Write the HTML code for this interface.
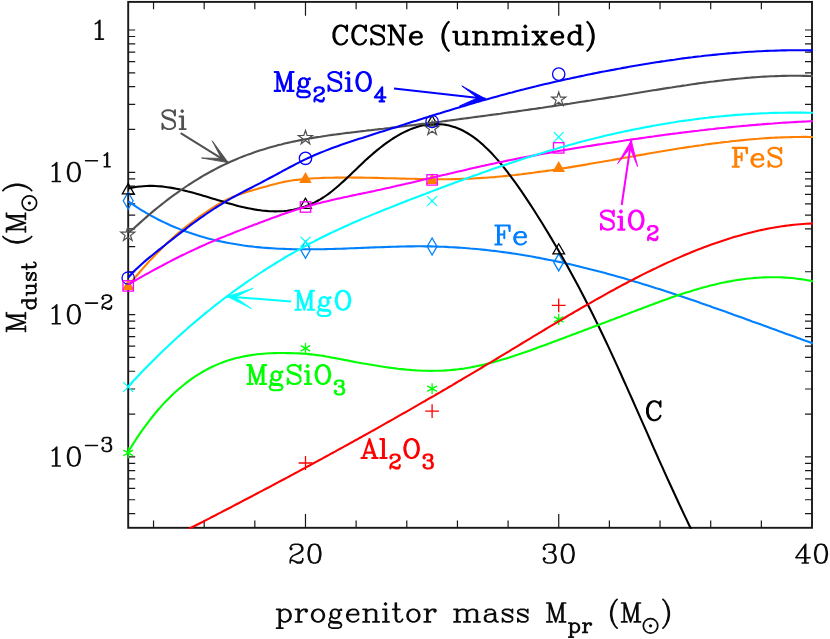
<!DOCTYPE html>
<html><head><meta charset="utf-8"><title>CCSNe (unmixed) dust mass</title>
<style>html,body{margin:0;padding:0;background:#fff;font-family:"Liberation Sans",sans-serif}svg{display:block}</style></head>
<body>
<svg width="830" height="639" viewBox="0 0 830 639">
<rect width="830" height="639" fill="#fff"/>
<defs><clipPath id="cp"><rect x="127.19999999999999" y="1.9" width="685.75" height="526.85"/></clipPath></defs>
<path d="M153.53 527.8v-7.3M153.53 1.9v7.3M204.18 527.8v-7.3M204.18 1.9v7.3M254.83 527.8v-7.3M254.83 1.9v7.3M305.48 527.8v-13.9M305.48 1.9v13.9M356.13 527.8v-7.3M356.13 1.9v7.3M406.79 527.8v-7.3M406.79 1.9v7.3M457.44 527.8v-7.3M457.44 1.9v7.3M508.09 527.8v-7.3M508.09 1.9v7.3M558.74 527.8v-13.9M558.74 1.9v13.9M609.39 527.8v-7.3M609.39 1.9v7.3M660.04 527.8v-7.3M660.04 1.9v7.3M710.70 527.8v-7.3M710.70 1.9v7.3M761.35 527.8v-7.3M761.35 1.9v7.3M128.2 30.00h7.0M812.0 30.00h-7.0M128.2 172.30h7.0M812.0 172.30h-7.0M128.2 129.46h7.0M812.0 129.46h-7.0M128.2 104.41h7.0M812.0 104.41h-7.0M128.2 86.63h7.0M812.0 86.63h-7.0M128.2 72.84h7.0M812.0 72.84h-7.0M128.2 61.57h7.0M812.0 61.57h-7.0M128.2 52.04h7.0M812.0 52.04h-7.0M128.2 43.79h7.0M812.0 43.79h-7.0M128.2 36.51h7.0M812.0 36.51h-7.0M128.2 314.60h7.0M812.0 314.60h-7.0M128.2 271.76h7.0M812.0 271.76h-7.0M128.2 246.71h7.0M812.0 246.71h-7.0M128.2 228.93h7.0M812.0 228.93h-7.0M128.2 215.14h7.0M812.0 215.14h-7.0M128.2 203.87h7.0M812.0 203.87h-7.0M128.2 194.34h7.0M812.0 194.34h-7.0M128.2 186.09h7.0M812.0 186.09h-7.0M128.2 178.81h7.0M812.0 178.81h-7.0M128.2 456.90h7.0M812.0 456.90h-7.0M128.2 414.06h7.0M812.0 414.06h-7.0M128.2 389.01h7.0M812.0 389.01h-7.0M128.2 371.23h7.0M812.0 371.23h-7.0M128.2 357.44h7.0M812.0 357.44h-7.0M128.2 346.17h7.0M812.0 346.17h-7.0M128.2 336.64h7.0M812.0 336.64h-7.0M128.2 328.39h7.0M812.0 328.39h-7.0M128.2 321.11h7.0M812.0 321.11h-7.0M128.2 513.53h7.0M812.0 513.53h-7.0M128.2 499.74h7.0M812.0 499.74h-7.0M128.2 488.47h7.0M812.0 488.47h-7.0M128.2 478.94h7.0M812.0 478.94h-7.0M128.2 470.69h7.0M812.0 470.69h-7.0M128.2 463.41h7.0M812.0 463.41h-7.0" stroke="#181818" stroke-width="1.2" fill="none"/>
<rect x="128.2" y="1.9" width="683.8" height="525.9" fill="none" stroke="#181818" stroke-width="1.9"/>
<g id="fes"><polygon points="128.2,279.3 122.0,290.1 134.4,290.1" fill="#ff8000" stroke="none"/><polygon points="305.5,172.1 299.2,182.9 311.7,182.9" fill="#ff8000" stroke="none"/><polygon points="432.1,173.3 425.9,184.1 438.3,184.1" fill="#ff8000" stroke="none"/><polygon points="558.7,161.1 552.5,171.9 565.0,171.9" fill="#ff8000" stroke="none"/><path d="M128.2 285.8L131.2 282.1L134.2 278.5L137.2 275.0L140.2 271.5L143.2 268.1L146.2 264.7L149.2 261.4L152.2 258.2L155.2 255.0L158.2 251.9L161.2 248.9L164.2 246.0L167.2 243.1L170.2 240.3L173.2 237.6L176.2 234.9L179.2 232.3L182.2 229.8L185.2 227.4L188.2 225.1L191.2 222.8L194.2 220.5L197.2 218.4L200.2 216.2L203.2 214.1L206.2 212.1L209.2 210.1L212.2 208.1L215.2 206.2L218.2 204.4L221.2 202.6L224.2 201.0L227.2 199.5L230.2 198.1L233.2 196.8L236.2 195.6L239.2 194.5L242.2 193.5L245.2 192.5L248.2 191.6L251.2 190.7L254.2 189.8L257.2 189.0L260.2 188.1L263.2 187.2L266.2 186.4L269.2 185.6L272.2 184.7L275.2 184.0L278.2 183.2L281.2 182.5L284.2 181.9L287.2 181.3L290.2 180.8L293.2 180.3L296.2 179.9L299.2 179.6L302.2 179.2L305.2 179.0L308.2 178.7L311.2 178.5L314.2 178.3L317.2 178.2L320.2 178.0L323.2 177.9L326.2 177.8L329.2 177.7L332.2 177.7L335.2 177.6L338.2 177.6L341.2 177.6L344.2 177.5L347.2 177.5L350.2 177.5L353.2 177.6L356.2 177.6L359.2 177.6L362.2 177.6L365.2 177.7L368.2 177.7L371.2 177.8L374.2 177.9L377.2 177.9L380.2 178.0L383.2 178.1L386.2 178.2L389.2 178.2L392.2 178.3L395.2 178.4L398.2 178.5L401.2 178.6L404.2 178.6L407.2 178.7L410.2 178.8L413.2 178.8L416.2 178.9L419.2 179.0L422.2 179.0L425.2 179.1L428.2 179.1L431.2 179.1L434.2 179.2L437.2 179.2L440.2 179.2L443.2 179.2L446.2 179.2L449.2 179.2L452.2 179.1L455.2 179.1L458.2 179.0L461.2 178.9L464.2 178.8L467.2 178.7L470.2 178.6L473.2 178.5L476.2 178.3L479.2 178.1L482.2 177.9L485.2 177.7L488.2 177.5L491.2 177.3L494.2 177.1L497.2 176.8L500.2 176.5L503.2 176.2L506.2 175.9L509.2 175.6L512.2 175.3L515.2 175.0L518.2 174.6L521.2 174.3L524.2 173.9L527.2 173.5L530.2 173.1L533.2 172.8L536.2 172.3L539.2 171.9L542.2 171.5L545.2 171.1L548.2 170.6L551.2 170.2L554.2 169.7L557.2 169.3L560.2 168.8L563.2 168.3L566.2 167.9L569.2 167.4L572.2 166.9L575.2 166.4L578.2 165.9L581.2 165.4L584.2 164.9L587.2 164.4L590.2 163.8L593.2 163.3L596.2 162.8L599.2 162.3L602.2 161.8L605.2 161.2L608.2 160.7L611.2 160.2L614.2 159.6L617.2 159.1L620.2 158.6L623.2 158.0L626.2 157.5L629.2 157.0L632.2 156.5L635.2 155.9L638.2 155.4L641.2 154.9L644.2 154.4L647.2 153.8L650.2 153.3L653.2 152.8L656.2 152.3L659.2 151.8L662.2 151.3L665.2 150.8L668.2 150.3L671.2 149.8L674.2 149.3L677.2 148.8L680.2 148.3L683.2 147.9L686.2 147.4L689.2 146.9L692.2 146.5L695.2 146.0L698.2 145.6L701.2 145.2L704.2 144.7L707.2 144.3L710.2 143.9L713.2 143.5L716.2 143.1L719.2 142.8L722.2 142.4L725.2 142.0L728.2 141.7L731.2 141.3L734.2 141.0L737.2 140.7L740.2 140.4L743.2 140.1L746.2 139.8L749.2 139.5L752.2 139.2L755.2 139.0L758.2 138.8L761.2 138.5L764.2 138.3L767.2 138.1L770.2 137.9L773.2 137.8L776.2 137.6L779.2 137.5L782.2 137.4L785.2 137.3L788.2 137.2L791.2 137.1L794.2 137.0L797.2 137.0L800.2 137.0L803.2 136.9L806.2 136.9L809.2 137.0L812.2 137.0L813.2 137.0" stroke="#ff8000" fill="none" stroke-width="2.1" stroke-linejoin="round" clip-path="url(#cp)"/></g>
<g id="fe"><polygon points="128.2,192.3 133.1,200.8 128.2,209.3 123.3,200.8" fill="none" stroke="#0080ff" stroke-width="1.3"/><polygon points="305.5,241.2 310.4,249.7 305.5,258.2 300.6,249.7" fill="none" stroke="#0080ff" stroke-width="1.3"/><polygon points="432.1,238.0 437.0,246.5 432.1,255.0 427.2,246.5" fill="none" stroke="#0080ff" stroke-width="1.3"/><polygon points="558.7,253.9 563.6,262.4 558.7,270.9 553.8,262.4" fill="none" stroke="#0080ff" stroke-width="1.3"/><path d="M128.2 201.3L131.2 203.4L134.2 205.4L137.2 207.4L140.2 209.3L143.2 211.1L146.2 212.9L149.2 214.6L152.2 216.3L155.2 217.9L158.2 219.5L161.2 221.0L164.2 222.4L167.2 223.8L170.2 225.2L173.2 226.5L176.2 227.7L179.2 228.9L182.2 230.1L185.2 231.2L188.2 232.3L191.2 233.3L194.2 234.3L197.2 235.3L200.2 236.2L203.2 237.1L206.2 237.9L209.2 238.7L212.2 239.4L215.2 240.2L218.2 240.9L221.2 241.5L224.2 242.1L227.2 242.7L230.2 243.3L233.2 243.8L236.2 244.3L239.2 244.8L242.2 245.3L245.2 245.7L248.2 246.1L251.2 246.4L254.2 246.8L257.2 247.1L260.2 247.4L263.2 247.7L266.2 247.9L269.2 248.1L272.2 248.3L275.2 248.5L278.2 248.7L281.2 248.8L284.2 248.9L287.2 249.0L290.2 249.1L293.2 249.2L296.2 249.3L299.2 249.3L302.2 249.3L305.2 249.3L308.2 249.3L311.2 249.3L314.2 249.3L317.2 249.3L320.2 249.2L323.2 249.2L326.2 249.1L329.2 249.0L332.2 249.0L335.2 248.9L338.2 248.8L341.2 248.7L344.2 248.6L347.2 248.5L350.2 248.3L353.2 248.2L356.2 248.1L359.2 248.0L362.2 247.9L365.2 247.8L368.2 247.6L371.2 247.5L374.2 247.4L377.2 247.3L380.2 247.2L383.2 247.1L386.2 247.0L389.2 246.9L392.2 246.8L395.2 246.7L398.2 246.6L401.2 246.5L404.2 246.5L407.2 246.4L410.2 246.4L413.2 246.4L416.2 246.3L419.2 246.3L422.2 246.3L425.2 246.4L428.2 246.4L431.2 246.4L434.2 246.5L437.2 246.6L440.2 246.7L443.2 246.8L446.2 246.9L449.2 247.1L452.2 247.2L455.2 247.4L458.2 247.6L461.2 247.8L464.2 248.0L467.2 248.2L470.2 248.5L473.2 248.7L476.2 249.0L479.2 249.3L482.2 249.6L485.2 249.9L488.2 250.2L491.2 250.6L494.2 250.9L497.2 251.3L500.2 251.7L503.2 252.1L506.2 252.5L509.2 252.9L512.2 253.4L515.2 253.8L518.2 254.3L521.2 254.8L524.2 255.3L527.2 255.8L530.2 256.3L533.2 256.8L536.2 257.4L539.2 257.9L542.2 258.5L545.2 259.1L548.2 259.7L551.2 260.3L554.2 260.9L557.2 261.5L560.2 262.1L563.2 262.8L566.2 263.5L569.2 264.1L572.2 264.8L575.2 265.5L578.2 266.2L581.2 266.9L584.2 267.7L587.2 268.4L590.2 269.2L593.2 269.9L596.2 270.7L599.2 271.5L602.2 272.3L605.2 273.1L608.2 273.9L611.2 274.7L614.2 275.6L617.2 276.4L620.2 277.3L623.2 278.1L626.2 279.0L629.2 279.9L632.2 280.8L635.2 281.7L638.2 282.6L641.2 283.5L644.2 284.4L647.2 285.3L650.2 286.3L653.2 287.2L656.2 288.2L659.2 289.1L662.2 290.1L665.2 291.1L668.2 292.0L671.2 293.0L674.2 294.0L677.2 295.0L680.2 296.0L683.2 297.0L686.2 298.0L689.2 299.1L692.2 300.1L695.2 301.1L698.2 302.1L701.2 303.2L704.2 304.2L707.2 305.3L710.2 306.3L713.2 307.4L716.2 308.4L719.2 309.5L722.2 310.6L725.2 311.6L728.2 312.7L731.2 313.8L734.2 314.9L737.2 315.9L740.2 317.0L743.2 318.1L746.2 319.2L749.2 320.3L752.2 321.4L755.2 322.4L758.2 323.5L761.2 324.6L764.2 325.7L767.2 326.8L770.2 327.9L773.2 329.0L776.2 330.1L779.2 331.2L782.2 332.3L785.2 333.4L788.2 334.5L791.2 335.6L794.2 336.6L797.2 337.7L800.2 338.8L803.2 339.9L806.2 341.0L809.2 342.1L812.2 343.2L813.2 343.5" stroke="#0080ff" fill="none" stroke-width="2.1" stroke-linejoin="round" clip-path="url(#cp)"/></g>
<g id="c"><polygon points="128.2,183.6 122.3,193.8 134.1,193.8" fill="none" stroke="#000000" stroke-width="1.3" stroke-linejoin="miter"/><polygon points="305.5,198.2 299.6,208.4 311.4,208.4" fill="none" stroke="#000000" stroke-width="1.3" stroke-linejoin="miter"/><polygon points="432.1,115.7 426.2,125.9 438.0,125.9" fill="none" stroke="#000000" stroke-width="1.3" stroke-linejoin="miter"/><polygon points="558.7,243.7 552.9,253.9 564.6,253.9" fill="none" stroke="#000000" stroke-width="1.3" stroke-linejoin="miter"/><path d="M128.2 188.6L131.2 187.9L134.2 187.3L137.2 186.8L140.2 186.5L143.2 186.2L146.2 186.0L149.2 185.9L152.2 185.9L155.2 186.0L158.2 186.2L161.2 186.4L164.2 186.8L167.2 187.2L170.2 187.6L173.2 188.1L176.2 188.7L179.2 189.3L182.2 190.0L185.2 190.7L188.2 191.5L191.2 192.2L194.2 193.1L197.2 193.9L200.2 194.8L203.2 195.7L206.2 196.6L209.2 197.5L212.2 198.4L215.2 199.3L218.2 200.2L221.2 201.1L224.2 202.0L227.2 202.9L230.2 203.7L233.2 204.6L236.2 205.4L239.2 206.2L242.2 206.9L245.2 207.6L248.2 208.2L251.2 208.8L254.2 209.4L257.2 209.9L260.2 210.3L263.2 210.7L266.2 210.9L269.2 211.2L272.2 211.3L275.2 211.4L278.2 211.3L281.2 211.2L284.2 211.0L287.2 210.7L290.2 210.2L293.2 209.7L296.2 209.1L299.2 208.3L302.2 207.4L305.2 206.4L308.2 205.3L311.2 204.0L314.2 202.6L317.2 201.0L320.2 199.3L323.2 197.5L326.2 195.5L329.2 193.3L332.2 191.0L335.2 188.5L338.2 186.0L341.2 183.3L344.2 180.6L347.2 177.8L350.2 174.9L353.2 172.0L356.2 169.2L359.2 166.3L362.2 163.4L365.2 160.6L368.2 157.9L371.2 155.2L374.2 152.6L377.2 150.1L380.2 147.7L383.2 145.4L386.2 143.2L389.2 141.1L392.2 139.0L395.2 137.1L398.2 135.3L401.2 133.6L404.2 132.1L407.2 130.7L410.2 129.4L413.2 128.2L416.2 127.2L419.2 126.3L422.2 125.5L425.2 124.9L428.2 124.5L431.2 124.2L434.2 124.0L437.2 124.0L440.2 124.2L443.2 124.5L446.2 124.9L449.2 125.6L452.2 126.4L455.2 127.3L458.2 128.5L461.2 129.8L464.2 131.3L467.2 133.0L470.2 134.8L473.2 136.9L476.2 139.1L479.2 141.5L482.2 144.1L485.2 146.9L488.2 149.8L491.2 152.8L494.2 156.1L497.2 159.4L500.2 163.0L503.2 166.6L506.2 170.4L509.2 174.3L512.2 178.3L515.2 182.4L518.2 186.6L521.2 190.9L524.2 195.3L527.2 199.8L530.2 204.4L533.2 209.0L536.2 213.7L539.2 218.5L542.2 223.3L545.2 228.2L548.2 233.1L551.2 238.1L554.2 243.2L557.2 248.3L560.2 253.5L563.2 258.7L566.2 264.1L569.2 269.5L572.2 274.9L575.2 280.5L578.2 286.1L581.2 291.8L584.2 297.5L587.2 303.4L590.2 309.3L593.2 315.3L596.2 321.4L599.2 327.5L602.2 333.7L605.2 340.0L608.2 346.4L611.2 352.9L614.2 359.4L617.2 365.9L620.2 372.5L623.2 379.2L626.2 385.9L629.2 392.6L632.2 399.3L635.2 406.1L638.2 412.9L641.2 419.6L644.2 426.4L647.2 433.2L650.2 440.0L653.2 446.8L656.2 453.5L659.2 460.3L662.2 466.9L665.2 473.6L668.2 480.2L671.2 486.8L674.2 493.3L677.2 499.8L680.2 506.2L683.2 512.6L686.2 518.9L689.2 525.2L692.2 531.4L695.2 537.6L698.2 543.8L700.0 547.5" stroke="#000000" fill="none" stroke-width="2.1" stroke-linejoin="round" clip-path="url(#cp)"/></g>
<g id="si"><polygon points="127.8,227.1 129.5,232.2 134.8,232.2 130.5,235.4 132.1,240.5 127.8,237.3 123.5,240.5 125.1,235.4 120.8,232.2 126.1,232.2" fill="none" stroke="#505050" stroke-width="1.2"/><polygon points="305.5,130.4 307.1,135.5 312.5,135.5 308.2,138.7 309.8,143.8 305.5,140.6 301.1,143.8 302.8,138.7 298.4,135.5 303.8,135.5" fill="none" stroke="#505050" stroke-width="1.2"/><polygon points="432.1,121.1 433.8,126.2 439.1,126.2 434.8,129.4 436.5,134.5 432.1,131.3 427.8,134.5 429.4,129.4 425.1,126.2 430.4,126.2" fill="none" stroke="#505050" stroke-width="1.2"/><polygon points="558.7,92.0 560.4,97.1 565.8,97.1 561.4,100.3 563.1,105.4 558.7,102.2 554.4,105.4 556.1,100.3 551.7,97.1 557.1,97.1" fill="none" stroke="#505050" stroke-width="1.2"/><path d="M128.4 232.6L131.4 230.2L134.4 227.7L137.4 225.1L140.4 222.4L143.4 219.8L146.4 217.1L149.4 214.5L152.4 211.9L155.4 209.4L158.4 207.0L161.4 204.6L164.4 202.2L167.4 199.9L170.4 197.6L173.4 195.4L176.4 193.3L179.4 191.1L182.4 189.0L185.4 187.0L188.4 185.0L191.4 183.1L194.4 181.2L197.4 179.3L200.4 177.5L203.4 175.7L206.4 174.0L209.4 172.3L212.4 170.7L215.4 169.1L218.4 167.5L221.4 166.0L224.4 164.6L227.4 163.2L230.4 161.8L233.4 160.5L236.4 159.2L239.4 157.9L242.4 156.7L245.4 155.6L248.4 154.4L251.4 153.4L254.4 152.3L257.4 151.3L260.4 150.3L263.4 149.4L266.4 148.5L269.4 147.6L272.4 146.7L275.4 145.9L278.4 145.1L281.4 144.4L284.4 143.6L287.4 142.9L290.4 142.3L293.4 141.6L296.4 141.0L299.4 140.4L302.4 139.8L305.4 139.2L308.4 138.7L311.4 138.1L314.4 137.6L317.4 137.1L320.4 136.7L323.4 136.2L326.4 135.8L329.4 135.3L332.4 134.9L335.4 134.5L338.4 134.1L341.4 133.7L344.4 133.3L347.4 132.9L350.4 132.6L353.4 132.2L356.4 131.9L359.4 131.5L362.4 131.1L365.4 130.8L368.4 130.4L371.4 130.1L374.4 129.7L377.4 129.4L380.4 129.0L383.4 128.7L386.4 128.3L389.4 128.0L392.4 127.6L395.4 127.2L398.4 126.9L401.4 126.5L404.4 126.2L407.4 125.8L410.4 125.4L413.4 125.1L416.4 124.7L419.4 124.3L422.4 123.9L425.4 123.6L428.4 123.2L431.4 122.8L434.4 122.4L437.4 122.0L440.4 121.7L443.4 121.3L446.4 120.9L449.4 120.5L452.4 120.1L455.4 119.7L458.4 119.3L461.4 118.9L464.4 118.5L467.4 118.1L470.4 117.7L473.4 117.3L476.4 116.9L479.4 116.5L482.4 116.1L485.4 115.7L488.4 115.3L491.4 114.9L494.4 114.5L497.4 114.1L500.4 113.7L503.4 113.2L506.4 112.8L509.4 112.4L512.4 112.0L515.4 111.6L518.4 111.1L521.4 110.7L524.4 110.3L527.4 109.9L530.4 109.4L533.4 109.0L536.4 108.6L539.4 108.1L542.4 107.7L545.4 107.2L548.4 106.8L551.4 106.4L554.4 105.9L557.4 105.5L560.4 105.0L563.4 104.6L566.4 104.1L569.4 103.7L572.4 103.2L575.4 102.8L578.4 102.3L581.4 101.8L584.4 101.4L587.4 100.9L590.4 100.5L593.4 100.0L596.4 99.5L599.4 99.0L602.4 98.6L605.4 98.1L608.4 97.6L611.4 97.1L614.4 96.7L617.4 96.2L620.4 95.7L623.4 95.2L626.4 94.7L629.4 94.2L632.4 93.8L635.4 93.3L638.4 92.8L641.4 92.3L644.4 91.8L647.4 91.3L650.4 90.8L653.4 90.3L656.4 89.9L659.4 89.4L662.4 88.9L665.4 88.4L668.4 87.9L671.4 87.5L674.4 87.0L677.4 86.5L680.4 86.1L683.4 85.6L686.4 85.2L689.4 84.7L692.4 84.3L695.4 83.9L698.4 83.4L701.4 83.0L704.4 82.6L707.4 82.2L710.4 81.8L713.4 81.5L716.4 81.1L719.4 80.7L722.4 80.4L725.4 80.0L728.4 79.7L731.4 79.4L734.4 79.1L737.4 78.8L740.4 78.5L743.4 78.2L746.4 77.9L749.4 77.7L752.4 77.4L755.4 77.2L758.4 77.0L761.4 76.8L764.4 76.6L767.4 76.5L770.4 76.3L773.4 76.2L776.4 76.1L779.4 76.0L782.4 75.9L785.4 75.9L788.4 75.8L791.4 75.8L794.4 75.8L797.4 75.8L800.4 75.8L803.4 75.9L806.4 75.9L809.4 76.0L812.4 76.1L813.2 76.2" stroke="#505050" fill="none" stroke-width="2.1" stroke-linejoin="round" clip-path="url(#cp)"/></g>
<g id="mg2sio4"><circle cx="128.2" cy="278.0" r="6.2" fill="none" stroke="#0000ff" stroke-width="1.3"/><circle cx="305.5" cy="158.3" r="6.2" fill="none" stroke="#0000ff" stroke-width="1.3"/><circle cx="432.1" cy="121.5" r="6.2" fill="none" stroke="#0000ff" stroke-width="1.3"/><circle cx="558.7" cy="74.1" r="6.2" fill="none" stroke="#0000ff" stroke-width="1.3"/><path d="M128.2 277.5L131.2 274.2L134.2 271.1L137.2 268.2L140.2 265.4L143.2 262.7L146.2 260.1L149.2 257.6L152.2 255.2L155.2 252.8L158.2 250.4L161.2 248.1L164.2 245.7L167.2 243.3L170.2 241.0L173.2 238.6L176.2 236.2L179.2 233.9L182.2 231.6L185.2 229.3L188.2 227.0L191.2 224.7L194.2 222.5L197.2 220.3L200.2 218.2L203.2 216.1L206.2 214.0L209.2 212.0L212.2 210.0L215.2 208.0L218.2 206.1L221.2 204.3L224.2 202.4L227.2 200.7L230.2 198.9L233.2 197.2L236.2 195.6L239.2 194.0L242.2 192.4L245.2 190.8L248.2 189.2L251.2 187.7L254.2 186.1L257.2 184.6L260.2 183.1L263.2 181.5L266.2 179.9L269.2 178.3L272.2 176.7L275.2 175.1L278.2 173.5L281.2 171.9L284.2 170.2L287.2 168.6L290.2 167.0L293.2 165.5L296.2 163.9L299.2 162.4L302.2 160.9L305.2 159.4L308.2 158.0L311.2 156.7L314.2 155.3L317.2 154.0L320.2 152.8L323.2 151.6L326.2 150.4L329.2 149.2L332.2 148.1L335.2 147.0L338.2 145.9L341.2 144.8L344.2 143.8L347.2 142.8L350.2 141.8L353.2 140.8L356.2 139.8L359.2 138.8L362.2 137.9L365.2 136.9L368.2 136.0L371.2 135.0L374.2 134.0L377.2 133.1L380.2 132.1L383.2 131.2L386.2 130.2L389.2 129.3L392.2 128.3L395.2 127.4L398.2 126.4L401.2 125.4L404.2 124.5L407.2 123.5L410.2 122.6L413.2 121.6L416.2 120.7L419.2 119.7L422.2 118.8L425.2 117.8L428.2 116.9L431.2 116.0L434.2 115.0L437.2 114.1L440.2 113.2L443.2 112.2L446.2 111.3L449.2 110.4L452.2 109.5L455.2 108.6L458.2 107.7L461.2 106.8L464.2 105.9L467.2 105.0L470.2 104.1L473.2 103.2L476.2 102.3L479.2 101.5L482.2 100.6L485.2 99.7L488.2 98.9L491.2 98.1L494.2 97.2L497.2 96.4L500.2 95.6L503.2 94.7L506.2 93.9L509.2 93.1L512.2 92.4L515.2 91.6L518.2 90.8L521.2 90.0L524.2 89.3L527.2 88.5L530.2 87.8L533.2 87.0L536.2 86.3L539.2 85.5L542.2 84.8L545.2 84.1L548.2 83.4L551.2 82.7L554.2 82.0L557.2 81.3L560.2 80.7L563.2 80.0L566.2 79.3L569.2 78.7L572.2 78.0L575.2 77.4L578.2 76.7L581.2 76.1L584.2 75.5L587.2 74.8L590.2 74.2L593.2 73.6L596.2 73.0L599.2 72.4L602.2 71.8L605.2 71.3L608.2 70.7L611.2 70.1L614.2 69.6L617.2 69.0L620.2 68.5L623.2 67.9L626.2 67.4L629.2 66.8L632.2 66.3L635.2 65.8L638.2 65.3L641.2 64.8L644.2 64.3L647.2 63.8L650.2 63.3L653.2 62.8L656.2 62.3L659.2 61.9L662.2 61.4L665.2 61.0L668.2 60.5L671.2 60.1L674.2 59.7L677.2 59.2L680.2 58.8L683.2 58.4L686.2 58.0L689.2 57.6L692.2 57.3L695.2 56.9L698.2 56.5L701.2 56.2L704.2 55.8L707.2 55.5L710.2 55.2L713.2 54.9L716.2 54.6L719.2 54.3L722.2 54.0L725.2 53.7L728.2 53.4L731.2 53.2L734.2 52.9L737.2 52.7L740.2 52.5L743.2 52.2L746.2 52.0L749.2 51.8L752.2 51.7L755.2 51.5L758.2 51.3L761.2 51.2L764.2 51.0L767.2 50.9L770.2 50.8L773.2 50.7L776.2 50.6L779.2 50.5L782.2 50.4L785.2 50.4L788.2 50.3L791.2 50.3L794.2 50.3L797.2 50.3L800.2 50.3L803.2 50.3L806.2 50.3L809.2 50.4L812.2 50.4L813.2 50.4" stroke="#0000ff" fill="none" stroke-width="2.1" stroke-linejoin="round" clip-path="url(#cp)"/></g>
<g id="sio2"><rect x="123.0" y="280.7" width="10.4" height="10.4" fill="none" stroke="#ff00ff" stroke-width="1.3"/><rect x="300.3" y="201.8" width="10.4" height="10.4" fill="none" stroke="#ff00ff" stroke-width="1.3"/><rect x="426.9" y="174.7" width="10.4" height="10.4" fill="none" stroke="#ff00ff" stroke-width="1.3"/><rect x="553.5" y="142.7" width="10.4" height="10.4" fill="none" stroke="#ff00ff" stroke-width="1.3"/><path d="M128.2 284.4L131.2 282.7L134.2 281.0L137.2 279.3L140.2 277.6L143.2 275.9L146.2 274.2L149.2 272.6L152.2 270.9L155.2 269.3L158.2 267.7L161.2 266.1L164.2 264.5L167.2 262.9L170.2 261.4L173.2 259.8L176.2 258.3L179.2 256.8L182.2 255.3L185.2 253.9L188.2 252.4L191.2 251.0L194.2 249.6L197.2 248.2L200.2 246.8L203.2 245.5L206.2 244.1L209.2 242.8L212.2 241.6L215.2 240.3L218.2 239.0L221.2 237.8L224.2 236.6L227.2 235.4L230.2 234.2L233.2 233.0L236.2 231.8L239.2 230.6L242.2 229.4L245.2 228.3L248.2 227.1L251.2 226.0L254.2 224.8L257.2 223.7L260.2 222.5L263.2 221.4L266.2 220.3L269.2 219.2L272.2 218.0L275.2 217.0L278.2 215.9L281.2 214.8L284.2 213.7L287.2 212.7L290.2 211.7L293.2 210.7L296.2 209.7L299.2 208.8L302.2 207.9L305.2 207.0L308.2 206.1L311.2 205.3L314.2 204.4L317.2 203.6L320.2 202.9L323.2 202.1L326.2 201.4L329.2 200.7L332.2 200.0L335.2 199.3L338.2 198.6L341.2 198.0L344.2 197.3L347.2 196.7L350.2 196.0L353.2 195.4L356.2 194.8L359.2 194.1L362.2 193.5L365.2 192.9L368.2 192.2L371.2 191.6L374.2 191.0L377.2 190.3L380.2 189.7L383.2 189.0L386.2 188.3L389.2 187.7L392.2 187.0L395.2 186.3L398.2 185.6L401.2 184.9L404.2 184.3L407.2 183.6L410.2 182.9L413.2 182.2L416.2 181.5L419.2 180.8L422.2 180.0L425.2 179.3L428.2 178.6L431.2 177.9L434.2 177.2L437.2 176.5L440.2 175.8L443.2 175.1L446.2 174.4L449.2 173.7L452.2 173.0L455.2 172.3L458.2 171.6L461.2 170.9L464.2 170.2L467.2 169.5L470.2 168.8L473.2 168.1L476.2 167.4L479.2 166.8L482.2 166.1L485.2 165.4L488.2 164.8L491.2 164.1L494.2 163.5L497.2 162.8L500.2 162.2L503.2 161.6L506.2 160.9L509.2 160.3L512.2 159.7L515.2 159.1L518.2 158.5L521.2 157.9L524.2 157.4L527.2 156.8L530.2 156.2L533.2 155.6L536.2 155.1L539.2 154.5L542.2 154.0L545.2 153.5L548.2 152.9L551.2 152.4L554.2 151.9L557.2 151.3L560.2 150.8L563.2 150.3L566.2 149.8L569.2 149.3L572.2 148.8L575.2 148.3L578.2 147.8L581.2 147.3L584.2 146.8L587.2 146.3L590.2 145.9L593.2 145.4L596.2 144.9L599.2 144.4L602.2 144.0L605.2 143.5L608.2 143.0L611.2 142.6L614.2 142.1L617.2 141.7L620.2 141.2L623.2 140.8L626.2 140.3L629.2 139.9L632.2 139.4L635.2 139.0L638.2 138.6L641.2 138.1L644.2 137.7L647.2 137.3L650.2 136.9L653.2 136.5L656.2 136.0L659.2 135.6L662.2 135.2L665.2 134.8L668.2 134.4L671.2 134.0L674.2 133.6L677.2 133.3L680.2 132.9L683.2 132.5L686.2 132.1L689.2 131.8L692.2 131.4L695.2 131.0L698.2 130.7L701.2 130.3L704.2 130.0L707.2 129.6L710.2 129.3L713.2 129.0L716.2 128.6L719.2 128.3L722.2 128.0L725.2 127.7L728.2 127.4L731.2 127.1L734.2 126.8L737.2 126.5L740.2 126.2L743.2 125.9L746.2 125.7L749.2 125.4L752.2 125.1L755.2 124.9L758.2 124.6L761.2 124.4L764.2 124.1L767.2 123.9L770.2 123.7L773.2 123.5L776.2 123.2L779.2 123.0L782.2 122.8L785.2 122.6L788.2 122.5L791.2 122.3L794.2 122.1L797.2 121.9L800.2 121.8L803.2 121.6L806.2 121.5L809.2 121.3L812.2 121.2L813.2 121.1" stroke="#ff00ff" fill="none" stroke-width="2.1" stroke-linejoin="round" clip-path="url(#cp)"/></g>
<g id="mgo"><path d="M123.3 382.1L133.1 391.9M123.3 391.9L133.1 382.1" stroke="#00ffff" stroke-width="1.3" fill="none"/><path d="M300.6 236.9L310.4 246.7M300.6 246.7L310.4 236.9" stroke="#00ffff" stroke-width="1.3" fill="none"/><path d="M427.2 196.1L437.0 205.9M427.2 205.9L437.0 196.1" stroke="#00ffff" stroke-width="1.3" fill="none"/><path d="M553.8 132.1L563.6 141.9M553.8 141.9L563.6 132.1" stroke="#00ffff" stroke-width="1.3" fill="none"/><path d="M128.2 386.5L131.2 383.3L134.2 380.0L137.2 376.9L140.2 373.7L143.2 370.6L146.2 367.5L149.2 364.5L152.2 361.5L155.2 358.5L158.2 355.6L161.2 352.6L164.2 349.8L167.2 346.9L170.2 344.1L173.2 341.3L176.2 338.5L179.2 335.8L182.2 333.1L185.2 330.5L188.2 327.8L191.2 325.2L194.2 322.6L197.2 320.1L200.2 317.6L203.2 315.1L206.2 312.6L209.2 310.2L212.2 307.8L215.2 305.4L218.2 303.1L221.2 300.7L224.2 298.5L227.2 296.2L230.2 294.0L233.2 291.7L236.2 289.6L239.2 287.4L242.2 285.3L245.2 283.2L248.2 281.1L251.2 279.0L254.2 277.0L257.2 275.0L260.2 273.0L263.2 271.0L266.2 269.1L269.2 267.2L272.2 265.3L275.2 263.5L278.2 261.6L281.2 259.8L284.2 258.0L287.2 256.2L290.2 254.5L293.2 252.8L296.2 251.1L299.2 249.4L302.2 247.7L305.2 246.1L308.2 244.5L311.2 242.9L314.2 241.4L317.2 239.8L320.2 238.3L323.2 236.8L326.2 235.3L329.2 233.8L332.2 232.4L335.2 231.0L338.2 229.6L341.2 228.2L344.2 226.8L347.2 225.5L350.2 224.1L353.2 222.8L356.2 221.5L359.2 220.2L362.2 218.9L365.2 217.6L368.2 216.4L371.2 215.1L374.2 213.9L377.2 212.7L380.2 211.5L383.2 210.3L386.2 209.0L389.2 207.9L392.2 206.7L395.2 205.5L398.2 204.3L401.2 203.1L404.2 202.0L407.2 200.8L410.2 199.6L413.2 198.5L416.2 197.3L419.2 196.2L422.2 195.0L425.2 193.9L428.2 192.7L431.2 191.6L434.2 190.4L437.2 189.3L440.2 188.2L443.2 187.0L446.2 185.9L449.2 184.8L452.2 183.7L455.2 182.6L458.2 181.5L461.2 180.4L464.2 179.3L467.2 178.2L470.2 177.1L473.2 176.0L476.2 174.9L479.2 173.9L482.2 172.8L485.2 171.7L488.2 170.7L491.2 169.6L494.2 168.6L497.2 167.6L500.2 166.5L503.2 165.5L506.2 164.5L509.2 163.5L512.2 162.5L515.2 161.5L518.2 160.5L521.2 159.5L524.2 158.6L527.2 157.6L530.2 156.7L533.2 155.7L536.2 154.8L539.2 153.9L542.2 152.9L545.2 152.0L548.2 151.1L551.2 150.2L554.2 149.4L557.2 148.5L560.2 147.6L563.2 146.8L566.2 145.9L569.2 145.1L572.2 144.3L575.2 143.4L578.2 142.6L581.2 141.8L584.2 141.1L587.2 140.3L590.2 139.5L593.2 138.8L596.2 138.0L599.2 137.3L602.2 136.6L605.2 135.8L608.2 135.1L611.2 134.4L614.2 133.8L617.2 133.1L620.2 132.4L623.2 131.8L626.2 131.1L629.2 130.5L632.2 129.9L635.2 129.3L638.2 128.7L641.2 128.1L644.2 127.5L647.2 126.9L650.2 126.4L653.2 125.8L656.2 125.3L659.2 124.7L662.2 124.2L665.2 123.7L668.2 123.2L671.2 122.7L674.2 122.3L677.2 121.8L680.2 121.3L683.2 120.9L686.2 120.5L689.2 120.1L692.2 119.7L695.2 119.3L698.2 118.9L701.2 118.5L704.2 118.1L707.2 117.8L710.2 117.4L713.2 117.1L716.2 116.8L719.2 116.5L722.2 116.2L725.2 115.9L728.2 115.6L731.2 115.4L734.2 115.1L737.2 114.9L740.2 114.7L743.2 114.4L746.2 114.2L749.2 114.1L752.2 113.9L755.2 113.7L758.2 113.5L761.2 113.4L764.2 113.3L767.2 113.2L770.2 113.0L773.2 112.9L776.2 112.9L779.2 112.8L782.2 112.7L785.2 112.7L788.2 112.6L791.2 112.6L794.2 112.6L797.2 112.6L800.2 112.6L803.2 112.6L806.2 112.7L809.2 112.7L812.2 112.8L813.2 112.8" stroke="#00ffff" fill="none" stroke-width="2.1" stroke-linejoin="round" clip-path="url(#cp)"/></g>
<g id="mgsio3"><path d="M128.2 447.3L128.2 458.3M123.4 450.1L133.0 455.6M133.0 450.1L123.4 455.6" stroke="#00ff00" stroke-width="1.3" fill="none"/><path d="M305.5 342.9L305.5 353.9M300.7 345.6L310.2 351.1M310.2 345.6L300.7 351.1" stroke="#00ff00" stroke-width="1.3" fill="none"/><path d="M432.1 383.2L432.1 394.2M427.3 385.9L436.9 391.4M436.9 385.9L427.3 391.4" stroke="#00ff00" stroke-width="1.3" fill="none"/><path d="M558.7 313.9L558.7 324.9M554.0 316.6L563.5 322.1M563.5 316.6L554.0 322.1" stroke="#00ff00" stroke-width="1.3" fill="none"/><path d="M128.2 452.0L131.2 447.0L134.2 442.2L137.2 437.6L140.2 433.2L143.2 428.9L146.2 424.8L149.2 420.8L152.2 417.0L155.2 413.3L158.2 409.8L161.2 406.4L164.2 403.1L167.2 400.0L170.2 397.0L173.2 394.1L176.2 391.3L179.2 388.7L182.2 386.2L185.2 383.7L188.2 381.4L191.2 379.2L194.2 377.2L197.2 375.2L200.2 373.3L203.2 371.5L206.2 369.9L209.2 368.3L212.2 366.8L215.2 365.4L218.2 364.1L221.2 362.9L224.2 361.8L227.2 360.8L230.2 359.8L233.2 358.9L236.2 358.1L239.2 357.4L242.2 356.7L245.2 356.1L248.2 355.6L251.2 355.1L254.2 354.7L257.2 354.3L260.2 354.0L263.2 353.7L266.2 353.5L269.2 353.3L272.2 353.2L275.2 353.1L278.2 353.0L281.2 353.0L284.2 353.0L287.2 353.1L290.2 353.1L293.2 353.2L296.2 353.3L299.2 353.4L302.2 353.6L305.2 353.8L308.2 354.1L311.2 354.4L314.2 354.7L317.2 355.1L320.2 355.5L323.2 355.9L326.2 356.5L329.2 357.0L332.2 357.6L335.2 358.1L338.2 358.7L341.2 359.3L344.2 359.9L347.2 360.4L350.2 361.0L353.2 361.6L356.2 362.2L359.2 362.7L362.2 363.3L365.2 363.8L368.2 364.3L371.2 364.8L374.2 365.3L377.2 365.8L380.2 366.3L383.2 366.8L386.2 367.2L389.2 367.6L392.2 368.0L395.2 368.4L398.2 368.8L401.2 369.1L404.2 369.4L407.2 369.7L410.2 369.9L413.2 370.2L416.2 370.4L419.2 370.5L422.2 370.7L425.2 370.8L428.2 370.8L431.2 370.9L434.2 370.8L437.2 370.8L440.2 370.7L443.2 370.6L446.2 370.4L449.2 370.2L452.2 369.9L455.2 369.6L458.2 369.3L461.2 368.9L464.2 368.5L467.2 368.0L470.2 367.5L473.2 366.9L476.2 366.3L479.2 365.6L482.2 365.0L485.2 364.3L488.2 363.5L491.2 362.7L494.2 361.9L497.2 361.1L500.2 360.2L503.2 359.3L506.2 358.4L509.2 357.5L512.2 356.5L515.2 355.5L518.2 354.5L521.2 353.5L524.2 352.5L527.2 351.4L530.2 350.4L533.2 349.3L536.2 348.2L539.2 347.1L542.2 346.0L545.2 344.9L548.2 343.8L551.2 342.7L554.2 341.6L557.2 340.5L560.2 339.3L563.2 338.2L566.2 337.1L569.2 336.0L572.2 334.8L575.2 333.7L578.2 332.6L581.2 331.5L584.2 330.3L587.2 329.2L590.2 328.1L593.2 326.9L596.2 325.8L599.2 324.7L602.2 323.5L605.2 322.4L608.2 321.2L611.2 320.1L614.2 319.0L617.2 317.8L620.2 316.7L623.2 315.5L626.2 314.4L629.2 313.2L632.2 312.1L635.2 310.9L638.2 309.8L641.2 308.7L644.2 307.5L647.2 306.4L650.2 305.3L653.2 304.2L656.2 303.0L659.2 301.9L662.2 300.8L665.2 299.8L668.2 298.7L671.2 297.6L674.2 296.6L677.2 295.6L680.2 294.6L683.2 293.6L686.2 292.6L689.2 291.7L692.2 290.7L695.2 289.8L698.2 288.9L701.2 288.1L704.2 287.2L707.2 286.4L710.2 285.6L713.2 284.9L716.2 284.2L719.2 283.5L722.2 282.8L725.2 282.2L728.2 281.6L731.2 281.1L734.2 280.5L737.2 280.0L740.2 279.6L743.2 279.2L746.2 278.8L749.2 278.5L752.2 278.2L755.2 277.9L758.2 277.7L761.2 277.5L764.2 277.4L767.2 277.3L770.2 277.2L773.2 277.2L776.2 277.2L779.2 277.3L782.2 277.4L785.2 277.6L788.2 277.8L791.2 278.0L794.2 278.3L797.2 278.7L800.2 279.1L803.2 279.5L806.2 280.0L809.2 280.5L812.2 281.1L813.2 281.3" stroke="#00ff00" fill="none" stroke-width="2.1" stroke-linejoin="round" clip-path="url(#cp)"/></g>
<g id="al2o3"><path d="M298.6 463.0L312.4 463.0M305.5 456.1L305.5 469.9" stroke="#ff0000" stroke-width="1.3" fill="none"/><path d="M425.2 411.1L439.0 411.1M432.1 404.2L432.1 418.0" stroke="#ff0000" stroke-width="1.3" fill="none"/><path d="M551.8 305.4L565.6 305.4M558.7 298.5L558.7 312.3" stroke="#ff0000" stroke-width="1.3" fill="none"/><path d="M170.0 538.5L173.0 537.0L176.0 535.5L179.0 534.0L182.0 532.4L185.0 530.9L188.0 529.4L191.0 527.8L194.0 526.3L197.0 524.7L200.0 523.2L203.0 521.7L206.0 520.1L209.0 518.6L212.0 517.0L215.0 515.5L218.0 513.9L221.0 512.4L224.0 510.8L227.0 509.2L230.0 507.7L233.0 506.1L236.0 504.5L239.0 503.0L242.0 501.4L245.0 499.8L248.0 498.3L251.0 496.7L254.0 495.1L257.0 493.5L260.0 491.9L263.0 490.4L266.0 488.8L269.0 487.2L272.0 485.6L275.0 484.0L278.0 482.4L281.0 480.8L284.0 479.2L287.0 477.6L290.0 476.0L293.0 474.4L296.0 472.8L299.0 471.1L302.0 469.5L305.0 467.9L308.0 466.3L311.0 464.7L314.0 463.0L317.0 461.4L320.0 459.8L323.0 458.1L326.0 456.5L329.0 454.9L332.0 453.2L335.0 451.6L338.0 449.9L341.0 448.3L344.0 446.6L347.0 445.0L350.0 443.3L353.0 441.7L356.0 440.0L359.0 438.3L362.0 436.7L365.0 435.0L368.0 433.3L371.0 431.6L374.0 430.0L377.0 428.3L380.0 426.6L383.0 424.9L386.0 423.2L389.0 421.5L392.0 419.8L395.0 418.1L398.0 416.4L401.0 414.7L404.0 413.0L407.0 411.3L410.0 409.6L413.0 407.9L416.0 406.1L419.0 404.4L422.0 402.7L425.0 401.0L428.0 399.2L431.0 397.5L434.0 395.8L437.0 394.0L440.0 392.3L443.0 390.5L446.0 388.8L449.0 387.0L452.0 385.3L455.0 383.5L458.0 381.7L461.0 380.0L464.0 378.2L467.0 376.4L470.0 374.7L473.0 372.9L476.0 371.1L479.0 369.3L482.0 367.5L485.0 365.7L488.0 363.9L491.0 362.1L494.0 360.3L497.0 358.5L500.0 356.7L503.0 354.9L506.0 353.1L509.0 351.3L512.0 349.4L515.0 347.6L518.0 345.8L521.0 344.0L524.0 342.2L527.0 340.4L530.0 338.6L533.0 336.7L536.0 334.9L539.0 333.1L542.0 331.3L545.0 329.5L548.0 327.7L551.0 325.9L554.0 324.1L557.0 322.3L560.0 320.6L563.0 318.8L566.0 317.0L569.0 315.2L572.0 313.5L575.0 311.7L578.0 310.0L581.0 308.2L584.0 306.5L587.0 304.8L590.0 303.1L593.0 301.3L596.0 299.6L599.0 298.0L602.0 296.3L605.0 294.6L608.0 292.9L611.0 291.3L614.0 289.7L617.0 288.0L620.0 286.4L623.0 284.8L626.0 283.2L629.0 281.6L632.0 280.1L635.0 278.5L638.0 277.0L641.0 275.4L644.0 273.9L647.0 272.4L650.0 271.0L653.0 269.5L656.0 268.1L659.0 266.6L662.0 265.2L665.0 263.8L668.0 262.4L671.0 261.1L674.0 259.7L677.0 258.4L680.0 257.1L683.0 255.8L686.0 254.5L689.0 253.3L692.0 252.0L695.0 250.8L698.0 249.6L701.0 248.5L704.0 247.3L707.0 246.2L710.0 245.1L713.0 244.0L716.0 243.0L719.0 241.9L722.0 240.9L725.0 239.9L728.0 239.0L731.0 238.1L734.0 237.1L737.0 236.3L740.0 235.4L743.0 234.6L746.0 233.8L749.0 233.0L752.0 232.2L755.0 231.5L758.0 230.8L761.0 230.1L764.0 229.5L767.0 228.9L770.0 228.3L773.0 227.8L776.0 227.2L779.0 226.7L782.0 226.3L785.0 225.9L788.0 225.5L791.0 225.1L794.0 224.8L797.0 224.5L800.0 224.2L803.0 224.0L806.0 223.8L809.0 223.6L812.0 223.5L813.2 223.4" stroke="#ff0000" fill="none" stroke-width="2.1" stroke-linejoin="round" clip-path="url(#cp)"/></g>
<path d="M180.7 133.2L228.2 162.6" stroke="#505050" stroke-width="2.0" fill="none"/><polygon points="228.2,162.6 212.2,140.8 221.4,158.4 201.6,158.0" fill="#505050" stroke="#505050" stroke-width="0.9" stroke-linejoin="round"/>
<path d="M394.0 88.4L485.5 98.8" stroke="#0000ff" stroke-width="2.0" fill="none"/><polygon points="485.5,98.8 461.8,85.9 477.6,97.9 459.5,106.0" fill="#0000ff" stroke="#0000ff" stroke-width="0.9" stroke-linejoin="round"/>
<path d="M621.7 205.0L631.3 140.4" stroke="#ff00ff" stroke-width="2.0" fill="none"/><polygon points="631.3,140.4 617.6,163.7 630.1,148.3 637.6,166.6" fill="#ff00ff" stroke="#ff00ff" stroke-width="0.9" stroke-linejoin="round"/>
<path d="M291.1 301.4L227.2 296.6" stroke="#00ffff" stroke-width="2.0" fill="none"/><polygon points="227.2,296.6 251.4,308.6 235.2,297.2 252.9,288.4" fill="#00ffff" stroke="#00ffff" stroke-width="0.9" stroke-linejoin="round"/>
<g transform="translate(108.00 39.10) translate(-18.00 0)" fill="none" stroke="#0c0c0c" stroke-width="1.55" stroke-linecap="round" stroke-linejoin="round"><path d="M5.40 -15.30L7.20 -16.20L9.90 -18.90L9.90 0.00M5.40 0.00L13.50 0.00M9.00 -18.00L9.00 0.00"/></g>
<g transform="translate(113.50 181.40) translate(-66.64 0)" fill="none" stroke="#0c0c0c" stroke-width="1.55" stroke-linecap="round" stroke-linejoin="round"><path d="M5.40 -15.30L7.20 -16.20L9.90 -18.90L9.90 0.00M5.40 0.00L13.50 0.00M9.00 -18.00L9.00 0.00M26.10 -18.90L27.90 -18.90L29.70 -18.00L30.60 -17.10L31.50 -15.30L32.40 -10.80L32.40 -8.10L31.50 -3.60L30.60 -1.80L29.70 -0.90L27.90 0.00L30.60 -0.90L32.40 -3.60L33.30 -8.10L33.30 -10.80L32.40 -15.30L30.60 -18.00L27.90 -18.90M26.10 -18.90L23.40 -18.00L21.60 -15.30L20.70 -10.80L20.70 -8.10L21.60 -3.60L23.40 -0.90L26.10 0.00L24.30 -0.90L23.40 -1.80L22.50 -3.60L21.60 -8.10L21.60 -10.80L22.50 -15.30L23.40 -17.10L24.30 -18.00L26.10 -18.90M26.10 0.00L27.90 0.00M38.66 -20.59L50.65 -20.59M57.31 -25.92L58.64 -26.59L60.64 -28.59L60.64 -14.60M57.31 -14.60L63.31 -14.60M59.98 -27.92L59.98 -14.60"/></g>
<g transform="translate(113.50 323.70) translate(-66.64 0)" fill="none" stroke="#0c0c0c" stroke-width="1.55" stroke-linecap="round" stroke-linejoin="round"><path d="M5.40 -15.30L7.20 -16.20L9.90 -18.90L9.90 0.00M5.40 0.00L13.50 0.00M9.00 -18.00L9.00 0.00M26.10 -18.90L27.90 -18.90L29.70 -18.00L30.60 -17.10L31.50 -15.30L32.40 -10.80L32.40 -8.10L31.50 -3.60L30.60 -1.80L29.70 -0.90L27.90 0.00L30.60 -0.90L32.40 -3.60L33.30 -8.10L33.30 -10.80L32.40 -15.30L30.60 -18.00L27.90 -18.90M26.10 -18.90L23.40 -18.00L21.60 -15.30L20.70 -10.80L20.70 -8.10L21.60 -3.60L23.40 -0.90L26.10 0.00L24.30 -0.90L23.40 -1.80L22.50 -3.60L21.60 -8.10L21.60 -10.80L22.50 -15.30L23.40 -17.10L24.30 -18.00L26.10 -18.90M26.10 0.00L27.90 0.00M38.66 -20.59L50.65 -20.59M55.31 -15.93L55.98 -16.60L57.31 -16.60L60.64 -15.27L62.64 -15.27L63.97 -15.93L64.64 -16.60L64.64 -17.93M55.31 -14.60L55.31 -16.60L55.98 -18.60L57.31 -19.93L61.31 -21.93L63.31 -23.26L63.97 -24.59L63.97 -25.92L63.31 -27.25L62.64 -27.92L61.31 -28.59L58.64 -28.59L56.65 -27.92L55.98 -27.25L55.31 -25.92L55.31 -25.26L55.98 -24.59L56.65 -25.26L55.98 -25.92M57.31 -16.60L60.64 -14.60L63.31 -14.60L63.97 -15.27L64.64 -16.60M58.64 -20.59L61.97 -21.93L63.97 -23.26L64.64 -24.59L64.64 -25.92L63.97 -27.25L63.31 -27.92L61.31 -28.59"/></g>
<g transform="translate(113.50 466.00) translate(-66.64 0)" fill="none" stroke="#0c0c0c" stroke-width="1.55" stroke-linecap="round" stroke-linejoin="round"><path d="M5.40 -15.30L7.20 -16.20L9.90 -18.90L9.90 0.00M5.40 0.00L13.50 0.00M9.00 -18.00L9.00 0.00M26.10 -18.90L27.90 -18.90L29.70 -18.00L30.60 -17.10L31.50 -15.30L32.40 -10.80L32.40 -8.10L31.50 -3.60L30.60 -1.80L29.70 -0.90L27.90 0.00L30.60 -0.90L32.40 -3.60L33.30 -8.10L33.30 -10.80L32.40 -15.30L30.60 -18.00L27.90 -18.90M26.10 -18.90L23.40 -18.00L21.60 -15.30L20.70 -10.80L20.70 -8.10L21.60 -3.60L23.40 -0.90L26.10 0.00L24.30 -0.90L23.40 -1.80L22.50 -3.60L21.60 -8.10L21.60 -10.80L22.50 -15.30L23.40 -17.10L24.30 -18.00L26.10 -18.90M26.10 0.00L27.90 0.00M38.66 -20.59L50.65 -20.59M55.98 -25.92L56.65 -25.26L55.98 -24.59L55.31 -25.26L55.31 -25.92L55.98 -27.25L56.65 -27.92L58.64 -28.59L61.31 -28.59L62.64 -27.92L63.31 -26.59L63.31 -24.59L62.64 -23.26L61.31 -22.59L63.31 -23.26L63.97 -24.59L63.97 -26.59L63.31 -27.92L61.31 -28.59M55.98 -17.26L56.65 -17.93L55.98 -18.60L55.31 -17.93L55.31 -17.26L55.98 -15.93L56.65 -15.27L58.64 -14.60L61.31 -14.60L62.64 -15.27L63.31 -15.93L63.97 -17.26L63.97 -19.26L63.31 -21.26M59.31 -22.59L61.31 -22.59L62.64 -21.93L63.97 -20.59L64.64 -19.26L64.64 -17.26L63.97 -15.93L63.31 -15.27L61.31 -14.60"/></g>
<g transform="translate(305.48 563.10) translate(-18.00 0)" fill="none" stroke="#0c0c0c" stroke-width="1.55" stroke-linecap="round" stroke-linejoin="round"><path d="M2.70 -1.80L3.60 -2.70L5.40 -2.70L9.90 -0.90L12.60 -0.90L14.40 -1.80L15.30 -2.70L15.30 -4.50M2.70 0.00L2.70 -2.70L3.60 -5.40L5.40 -7.20L10.80 -9.90L13.50 -11.70L14.40 -13.50L14.40 -15.30L13.50 -17.10L12.60 -18.00L10.80 -18.90L7.20 -18.90L4.50 -18.00L3.60 -17.10L2.70 -15.30L2.70 -14.40L3.60 -13.50L4.50 -14.40L3.60 -15.30M5.40 -2.70L9.90 0.00L13.50 0.00L14.40 -0.90L15.30 -2.70M7.20 -8.10L11.70 -9.90L14.40 -11.70L15.30 -13.50L15.30 -15.30L14.40 -17.10L13.50 -18.00L10.80 -18.90M26.10 -18.90L27.90 -18.90L29.70 -18.00L30.60 -17.10L31.50 -15.30L32.40 -10.80L32.40 -8.10L31.50 -3.60L30.60 -1.80L29.70 -0.90L27.90 0.00L30.60 -0.90L32.40 -3.60L33.30 -8.10L33.30 -10.80L32.40 -15.30L30.60 -18.00L27.90 -18.90M26.10 -18.90L23.40 -18.00L21.60 -15.30L20.70 -10.80L20.70 -8.10L21.60 -3.60L23.40 -0.90L26.10 0.00L24.30 -0.90L23.40 -1.80L22.50 -3.60L21.60 -8.10L21.60 -10.80L22.50 -15.30L23.40 -17.10L24.30 -18.00L26.10 -18.90M26.10 0.00L27.90 0.00"/></g>
<g transform="translate(558.74 563.10) translate(-18.00 0)" fill="none" stroke="#0c0c0c" stroke-width="1.55" stroke-linecap="round" stroke-linejoin="round"><path d="M3.60 -15.30L4.50 -14.40L3.60 -13.50L2.70 -14.40L2.70 -15.30L3.60 -17.10L4.50 -18.00L7.20 -18.90L10.80 -18.90L12.60 -18.00L13.50 -16.20L13.50 -13.50L12.60 -11.70L10.80 -10.80L13.50 -11.70L14.40 -13.50L14.40 -16.20L13.50 -18.00L10.80 -18.90M3.60 -3.60L4.50 -4.50L3.60 -5.40L2.70 -4.50L2.70 -3.60L3.60 -1.80L4.50 -0.90L7.20 0.00L10.80 0.00L12.60 -0.90L13.50 -1.80L14.40 -3.60L14.40 -6.30L13.50 -9.00M8.10 -10.80L10.80 -10.80L12.60 -9.90L14.40 -8.10L15.30 -6.30L15.30 -3.60L14.40 -1.80L13.50 -0.90L10.80 0.00M26.10 -18.90L27.90 -18.90L29.70 -18.00L30.60 -17.10L31.50 -15.30L32.40 -10.80L32.40 -8.10L31.50 -3.60L30.60 -1.80L29.70 -0.90L27.90 0.00L30.60 -0.90L32.40 -3.60L33.30 -8.10L33.30 -10.80L32.40 -15.30L30.60 -18.00L27.90 -18.90M26.10 -18.90L23.40 -18.00L21.60 -15.30L20.70 -10.80L20.70 -8.10L21.60 -3.60L23.40 -0.90L26.10 0.00L24.30 -0.90L23.40 -1.80L22.50 -3.60L21.60 -8.10L21.60 -10.80L22.50 -15.30L23.40 -17.10L24.30 -18.00L26.10 -18.90M26.10 0.00L27.90 0.00"/></g>
<g transform="translate(812.00 563.10) translate(-18.00 0)" fill="none" stroke="#0c0c0c" stroke-width="1.55" stroke-linecap="round" stroke-linejoin="round"><path d="M4.50 -9.00L11.70 -18.90L11.70 0.00M4.50 -9.00L9.00 -15.30L11.70 -18.90L1.80 -5.40L9.00 -15.30M4.50 -9.00L1.80 -5.40L16.20 -5.40M6.30 -11.70L7.20 -12.60M8.10 0.00L14.40 0.00M10.80 -17.10L10.80 0.00M26.10 -18.90L27.90 -18.90L29.70 -18.00L30.60 -17.10L31.50 -15.30L32.40 -10.80L32.40 -8.10L31.50 -3.60L30.60 -1.80L29.70 -0.90L27.90 0.00L30.60 -0.90L32.40 -3.60L33.30 -8.10L33.30 -10.80L32.40 -15.30L30.60 -18.00L27.90 -18.90M26.10 -18.90L23.40 -18.00L21.60 -15.30L20.70 -10.80L20.70 -8.10L21.60 -3.60L23.40 -0.90L26.10 0.00L24.30 -0.90L23.40 -1.80L22.50 -3.60L21.60 -8.10L21.60 -10.80L22.50 -15.30L23.40 -17.10L24.30 -18.00L26.10 -18.90M26.10 0.00L27.90 0.00"/></g>
<g transform="translate(274.80 621.90)" fill="none" stroke="#0c0c0c" stroke-width="1.7" stroke-linecap="round" stroke-linejoin="round"><path d="M1.80 -12.60L5.40 -12.60L5.40 6.30M1.80 6.30L8.10 6.30M4.50 -12.60L4.50 6.30M5.40 -9.90L7.20 -11.70L9.00 -12.60L10.80 -12.60L12.60 -11.70L14.40 -9.90L15.30 -7.20L15.30 -5.40L14.40 -2.70L12.60 -0.90L10.80 0.00L13.50 -0.90L15.30 -2.70L16.20 -5.40L16.20 -7.20L15.30 -9.90L13.50 -11.70L10.80 -12.60M5.40 -2.70L7.20 -0.90L9.00 0.00L10.80 0.00M20.70 -12.60L24.30 -12.60L24.30 0.00M20.70 0.00L27.00 0.00M23.40 -12.60L23.40 0.00M24.30 -7.20L25.20 -9.90L27.00 -11.70L28.80 -12.60L31.50 -12.60L32.40 -11.70L32.40 -10.80L31.50 -9.90L30.60 -10.80L31.50 -11.70M42.30 -12.60L44.10 -12.60L45.90 -11.70L47.70 -9.90L48.60 -7.20L48.60 -5.40L47.70 -2.70L45.90 -0.90L44.10 0.00L46.80 -0.90L48.60 -2.70L49.50 -5.40L49.50 -7.20L48.60 -9.90L46.80 -11.70L44.10 -12.60M42.30 -12.60L39.60 -11.70L37.80 -9.90L36.90 -7.20L36.90 -5.40L37.80 -2.70L39.60 -0.90L42.30 0.00L40.50 -0.90L38.70 -2.70L37.80 -5.40L37.80 -7.20L38.70 -9.90L40.50 -11.70L42.30 -12.60M42.30 0.00L44.10 0.00M54.90 -1.80L54.90 -2.70L55.80 -4.50L56.70 -5.40L55.80 -7.20L55.80 -9.00L56.70 -10.80L57.60 -11.70L59.40 -12.60L61.20 -12.60L63.00 -11.70L63.90 -10.80L64.80 -11.70L66.60 -12.60L66.60 -11.70L64.80 -11.70M54.90 -1.80L55.80 -0.90L58.50 0.00L63.00 0.00L65.70 0.90L66.60 2.70L66.60 3.60L65.70 5.40L63.00 6.30L57.60 6.30L54.90 5.40L54.00 3.60L54.00 2.70L54.90 0.90L57.60 0.00M54.90 -1.80L55.80 0.00L58.50 0.90L63.00 0.90L65.70 1.80L66.60 2.70M56.70 -5.40L57.60 -4.50L56.70 -6.30L56.70 -9.90L57.60 -11.70M57.60 -4.50L59.40 -3.60L61.20 -3.60L63.00 -4.50L63.90 -6.30L63.90 -9.90L63.00 -11.70M63.00 -4.50L63.90 -5.40L64.80 -7.20L64.80 -9.00L63.90 -10.80M72.90 -7.20L73.80 -9.90L75.60 -11.70L77.40 -12.60L80.10 -12.60L81.90 -11.70L82.80 -10.80L83.70 -9.00L83.70 -7.20L72.90 -7.20L72.90 -5.40L73.80 -2.70L75.60 -0.90L77.40 0.00L74.70 -0.90L72.90 -2.70L72.00 -5.40L72.00 -7.20L72.90 -9.90L74.70 -11.70L77.40 -12.60M77.40 0.00L79.20 0.00L81.90 -0.90L83.70 -2.70M81.90 -11.70L82.80 -9.90L82.80 -7.20M88.20 -12.60L91.80 -12.60L91.80 0.00M88.20 0.00L94.50 0.00M90.90 -12.60L90.90 0.00M91.80 -9.90L93.60 -11.70L96.30 -12.60L98.10 -12.60L99.90 -11.70L100.80 -9.90L100.80 0.00M98.10 -12.60L100.80 -11.70L101.70 -9.90L101.70 0.00M98.10 0.00L104.40 0.00M108.00 -12.60L111.60 -12.60L111.60 0.00M108.00 0.00L114.30 0.00M110.70 -12.60L110.70 0.00M109.80 -18.00L110.70 -18.90L111.60 -18.00L110.70 -17.10L109.80 -18.00M117.90 -12.60L125.10 -12.60M120.60 -18.90L120.60 -3.60L121.50 -0.90L123.30 0.00L122.40 -0.90L121.50 -3.60L121.50 -18.90M123.30 0.00L125.10 0.00L126.90 -0.90L127.80 -2.70M137.70 -12.60L139.50 -12.60L141.30 -11.70L143.10 -9.90L144.00 -7.20L144.00 -5.40L143.10 -2.70L141.30 -0.90L139.50 0.00L142.20 -0.90L144.00 -2.70L144.90 -5.40L144.90 -7.20L144.00 -9.90L142.20 -11.70L139.50 -12.60M137.70 -12.60L135.00 -11.70L133.20 -9.90L132.30 -7.20L132.30 -5.40L133.20 -2.70L135.00 -0.90L137.70 0.00L135.90 -0.90L134.10 -2.70L133.20 -5.40L133.20 -7.20L134.10 -9.90L135.90 -11.70L137.70 -12.60M137.70 0.00L139.50 0.00M149.40 -12.60L153.00 -12.60L153.00 0.00M149.40 0.00L155.70 0.00M152.10 -12.60L152.10 0.00M153.00 -7.20L153.90 -9.90L155.70 -11.70L157.50 -12.60L160.20 -12.60L161.10 -11.70L161.10 -10.80L160.20 -9.90L159.30 -10.80L160.20 -11.70M179.16 -12.60L182.76 -12.60L182.76 0.00M179.16 0.00L185.46 0.00M181.86 -12.60L181.86 0.00M182.76 -9.90L184.56 -11.70L187.26 -12.60L189.06 -12.60L190.86 -11.70L191.76 -9.90L191.76 0.00M189.06 -12.60L191.76 -11.70L192.66 -9.90L194.46 -11.70L197.16 -12.60L198.96 -12.60L200.76 -11.70L201.66 -9.90L201.66 0.00M189.06 0.00L195.36 0.00M192.66 -9.90L192.66 0.00M198.96 -12.60L201.66 -11.70L202.56 -9.90L202.56 0.00M198.96 0.00L205.26 0.00M211.56 -10.80L211.56 -9.90L210.66 -9.90L210.66 -10.80L211.56 -11.70L213.36 -12.60L216.96 -12.60L218.76 -11.70L219.66 -10.80L219.66 -2.70L217.86 -0.90L216.06 0.00L213.36 0.00L210.66 -0.90L209.76 -2.70L209.76 -4.50L210.66 -6.30L213.36 -7.20L218.76 -8.10L219.66 -9.00M213.36 -7.20L211.56 -6.30L210.66 -4.50L210.66 -2.70L211.56 -0.90L213.36 0.00M219.66 -10.80L220.56 -9.00L220.56 -2.70L221.46 -0.90L222.36 0.00L220.56 -0.90L219.66 -2.70M222.36 0.00L223.26 0.00M227.76 -9.90L228.66 -9.00L230.46 -8.10L234.96 -6.30L236.76 -5.40L237.66 -4.50L237.66 -1.80L236.76 -0.90L234.96 0.00L231.36 0.00L229.56 -0.90L228.66 -1.80L227.76 -3.60L227.76 0.00L228.66 -1.80M236.76 -10.80L237.66 -12.60L237.66 -9.00L236.76 -10.80L235.86 -11.70L234.06 -12.60L230.46 -12.60L228.66 -11.70L227.76 -10.80L227.76 -9.00L228.66 -8.10L230.46 -7.20L234.96 -5.40L236.76 -4.50L237.66 -3.60M243.06 -9.90L243.96 -9.00L245.76 -8.10L250.26 -6.30L252.06 -5.40L252.96 -4.50L252.96 -1.80L252.06 -0.90L250.26 0.00L246.66 0.00L244.86 -0.90L243.96 -1.80L243.06 -3.60L243.06 0.00L243.96 -1.80M252.06 -10.80L252.96 -12.60L252.96 -9.00L252.06 -10.80L251.16 -11.70L249.36 -12.60L245.76 -12.60L243.96 -11.70L243.06 -10.80L243.06 -9.00L243.96 -8.10L245.76 -7.20L250.26 -5.40L252.06 -4.50L252.96 -3.60M271.91 -18.90L275.51 -18.90L280.91 -2.70M271.91 0.00L277.31 0.00M274.61 0.00L274.61 -18.90L280.91 0.00L287.21 -18.90L290.81 -18.90M284.51 0.00L290.81 0.00M287.21 -18.90L287.21 0.00M288.11 -18.90L288.11 0.00M293.94 1.18L296.61 1.18L296.61 15.16M293.94 15.16L298.61 15.16M295.94 1.18L295.94 15.16M296.61 3.17L297.94 1.84L299.27 1.18L300.60 1.18L301.94 1.84L303.27 3.17L303.93 5.17L303.93 6.50L303.27 8.50L301.94 9.83L300.60 10.50L302.60 9.83L303.93 8.50L304.60 6.50L304.60 5.17L303.93 3.17L302.60 1.84L300.60 1.18M296.61 8.50L297.94 9.83L299.27 10.50L300.60 10.50M307.93 1.18L310.59 1.18L310.59 10.50M307.93 10.50L312.59 10.50M309.93 1.18L309.93 10.50M310.59 5.17L311.26 3.17L312.59 1.84L313.92 1.18L315.92 1.18L316.59 1.84L316.59 2.51L315.92 3.17L315.26 2.51L315.92 1.84M340.48 -20.70L342.28 -22.50M340.48 -20.70L338.68 -17.10L337.78 -14.40L336.88 -9.90L336.88 -6.30L337.78 -1.80L338.68 0.90L340.48 4.50L338.68 1.80L336.88 -1.80L335.98 -6.30L335.98 -9.90L336.88 -14.40L338.68 -18.00L340.48 -20.70M340.48 4.50L342.28 6.30M346.78 -18.90L350.38 -18.90L355.78 -2.70M346.78 0.00L352.18 0.00M349.48 0.00L349.48 -18.90L355.78 0.00L362.08 -18.90L365.68 -18.90M359.38 0.00L365.68 0.00M362.08 -18.90L362.08 0.00M362.98 -18.90L362.98 0.00M388.16 -22.50L389.96 -20.70L391.76 -17.10L392.66 -14.40L393.56 -9.90L393.56 -6.30L392.66 -1.80L391.76 0.90L389.96 4.50L391.76 1.80L393.56 -1.80L394.46 -6.30L394.46 -9.90L393.56 -14.40L391.76 -18.00L389.96 -20.70M388.16 6.30L389.96 4.50"/><circle cx="375.74" cy="3.97" r="7.26"/><circle cx="375.74" cy="3.97" r="1.65" fill="#0c0c0c" stroke="none"/></g>
<g transform="translate(25.40 333.30) rotate(-90)" fill="none" stroke="#0c0c0c" stroke-width="1.7" stroke-linecap="round" stroke-linejoin="round"><path d="M1.80 -18.90L5.40 -18.90L10.80 -2.70M1.80 0.00L7.20 0.00M4.50 0.00L4.50 -18.90L10.80 0.00L17.10 -18.90L20.70 -18.90M14.40 0.00L20.70 0.00M17.10 -18.90L17.10 0.00M18.00 -18.90L18.00 0.00M28.49 1.18L29.83 1.18L31.16 1.84L32.49 3.17M28.49 1.18L26.50 1.84L25.16 3.17L24.50 5.17L24.50 6.50L25.16 8.50L26.50 9.83L28.49 10.50L27.16 9.83L25.83 8.50L25.16 6.50L25.16 5.17L25.83 3.17L27.16 1.84L28.49 1.18M28.49 10.50L29.83 10.50L31.16 9.83L32.49 8.50M30.49 -3.49L33.16 -3.49L33.16 10.50M32.49 -3.49L32.49 10.50L35.15 10.50M37.82 1.18L40.48 1.18L40.48 8.50L41.15 9.83L42.48 10.50L40.48 9.83L39.82 8.50L39.82 1.18M42.48 10.50L43.81 10.50L45.81 9.83L47.14 8.50M45.14 1.18L47.81 1.18L47.81 10.50M47.14 1.18L47.14 10.50L49.81 10.50M53.14 3.17L53.80 3.84L55.13 4.51L58.46 5.84L59.80 6.50L60.46 7.17L60.46 9.17L59.80 9.83L58.46 10.50L55.80 10.50L54.47 9.83L53.80 9.17L53.14 7.84L53.14 10.50L53.80 9.17M59.80 2.51L60.46 1.18L60.46 3.84L59.80 2.51L59.13 1.84L57.80 1.18L55.13 1.18L53.80 1.84L53.14 2.51L53.14 3.84L53.80 4.51L55.13 5.17L58.46 6.50L59.80 7.17L60.46 7.84M63.79 1.18L69.12 1.18M65.79 -3.49L65.79 7.84L66.46 9.83L67.79 10.50L67.12 9.83L66.46 7.84L66.46 -3.49M67.79 10.50L69.12 10.50L70.45 9.83L71.12 8.50M95.01 -20.70L96.81 -22.50M95.01 -20.70L93.21 -17.10L92.31 -14.40L91.41 -9.90L91.41 -6.30L92.31 -1.80L93.21 0.90L95.01 4.50L93.21 1.80L91.41 -1.80L90.51 -6.30L90.51 -9.90L91.41 -14.40L93.21 -18.00L95.01 -20.70M95.01 4.50L96.81 6.30M101.31 -18.90L104.91 -18.90L110.31 -2.70M101.31 0.00L106.71 0.00M104.01 0.00L104.01 -18.90L110.31 0.00L116.61 -18.90L120.21 -18.90M113.91 0.00L120.21 0.00M116.61 -18.90L116.61 0.00M117.51 -18.90L117.51 0.00M142.69 -22.50L144.49 -20.70L146.29 -17.10L147.19 -14.40L148.09 -9.90L148.09 -6.30L147.19 -1.80L146.29 0.90L144.49 4.50L146.29 1.80L148.09 -1.80L148.99 -6.30L148.99 -9.90L148.09 -14.40L146.29 -18.00L144.49 -20.70M142.69 6.30L144.49 4.50"/><circle cx="130.26" cy="3.97" r="7.26"/><circle cx="130.26" cy="3.97" r="1.65" fill="#0c0c0c" stroke="none"/></g>
<g transform="translate(330.80 44.50)" fill="none" stroke="#000000" stroke-width="2.15" stroke-linecap="round" stroke-linejoin="round"><path d="M9.00 -18.90L10.80 -18.90L13.50 -18.00L15.30 -16.20L16.20 -18.90L16.20 -13.50L15.30 -16.20M9.00 -18.90L6.30 -18.00L4.50 -16.20L3.60 -14.40L2.70 -11.70L2.70 -7.20L3.60 -4.50L4.50 -2.70L6.30 -0.90L9.00 0.00L7.20 -0.90L5.40 -2.70L4.50 -4.50L3.60 -7.20L3.60 -11.70L4.50 -14.40L5.40 -16.20L7.20 -18.00L9.00 -18.90M9.00 0.00L10.80 0.00L13.50 -0.90L15.30 -2.70L16.20 -4.50M27.90 -18.90L29.70 -18.90L32.40 -18.00L34.20 -16.20L35.10 -18.90L35.10 -13.50L34.20 -16.20M27.90 -18.90L25.20 -18.00L23.40 -16.20L22.50 -14.40L21.60 -11.70L21.60 -7.20L22.50 -4.50L23.40 -2.70L25.20 -0.90L27.90 0.00L26.10 -0.90L24.30 -2.70L23.40 -4.50L22.50 -7.20L22.50 -11.70L23.40 -14.40L24.30 -16.20L26.10 -18.00L27.90 -18.90M27.90 0.00L29.70 0.00L32.40 -0.90L34.20 -2.70L35.10 -4.50M40.50 -14.40L40.50 -16.20L42.30 -18.00L45.00 -18.90L47.70 -18.90L50.40 -18.00L52.20 -16.20L53.10 -18.90L53.10 -13.50L52.20 -16.20M40.50 -14.40L42.30 -12.60L44.10 -11.70L49.50 -9.90L51.30 -9.00L52.20 -8.10L53.10 -6.30L53.10 -2.70L51.30 -0.90L48.60 0.00L45.90 0.00L43.20 -0.90L41.40 -2.70L40.50 -5.40L40.50 0.00L41.40 -2.70M40.50 -14.40L41.40 -12.60L42.30 -11.70L44.10 -10.80L49.50 -9.00L51.30 -8.10L53.10 -6.30M57.60 -18.90L61.20 -18.90L63.00 -16.20L65.70 -11.70L67.50 -9.00L61.20 -18.90L70.20 -4.50L63.00 -16.20L72.00 -1.80L61.20 -18.90M57.60 0.00L63.00 0.00M60.30 -18.90L60.30 0.00M65.70 -11.70L72.00 -1.80L70.20 -4.50L67.50 -9.00M65.70 -9.90L63.00 -14.40L61.20 -17.10L70.20 -2.70L63.00 -14.40L72.00 0.00L72.00 -18.90M65.70 -9.90L67.50 -7.20L61.20 -17.10L72.00 0.00L65.70 -9.90M67.50 -7.20L70.20 -2.70L72.00 0.00M69.30 -18.90L74.70 -18.90M80.10 -7.20L81.00 -9.90L82.80 -11.70L84.60 -12.60L87.30 -12.60L89.10 -11.70L90.00 -10.80L90.90 -9.00L90.90 -7.20L80.10 -7.20L80.10 -5.40L81.00 -2.70L82.80 -0.90L84.60 0.00L81.90 -0.90L80.10 -2.70L79.20 -5.40L79.20 -7.20L80.10 -9.90L81.90 -11.70L84.60 -12.60M84.60 0.00L86.40 0.00L89.10 -0.90L90.90 -2.70M89.10 -11.70L90.00 -9.90L90.00 -7.20M116.16 -20.70L117.96 -22.50M116.16 -20.70L114.36 -17.10L113.46 -14.40L112.56 -9.90L112.56 -6.30L113.46 -1.80L114.36 0.90L116.16 4.50L114.36 1.80L112.56 -1.80L111.66 -6.30L111.66 -9.90L112.56 -14.40L114.36 -18.00L116.16 -20.70M116.16 4.50L117.96 6.30M122.46 -12.60L126.06 -12.60L126.06 -2.70L126.96 -0.90L128.76 0.00L126.06 -0.90L125.16 -2.70L125.16 -12.60M128.76 0.00L130.56 0.00L133.26 -0.90L135.06 -2.70M132.36 -12.60L135.96 -12.60L135.96 0.00M135.06 -12.60L135.06 0.00L138.66 0.00M142.26 -12.60L145.86 -12.60L145.86 0.00M142.26 0.00L148.56 0.00M144.96 -12.60L144.96 0.00M145.86 -9.90L147.66 -11.70L150.36 -12.60L152.16 -12.60L153.96 -11.70L154.86 -9.90L154.86 0.00M152.16 -12.60L154.86 -11.70L155.76 -9.90L155.76 0.00M152.16 0.00L158.46 0.00M162.06 -12.60L165.66 -12.60L165.66 0.00M162.06 0.00L168.36 0.00M164.76 -12.60L164.76 0.00M165.66 -9.90L167.46 -11.70L170.16 -12.60L171.96 -12.60L173.76 -11.70L174.66 -9.90L174.66 0.00M171.96 -12.60L174.66 -11.70L175.56 -9.90L177.36 -11.70L180.06 -12.60L181.86 -12.60L183.66 -11.70L184.56 -9.90L184.56 0.00M171.96 0.00L178.26 0.00M175.56 -9.90L175.56 0.00M181.86 -12.60L184.56 -11.70L185.46 -9.90L185.46 0.00M181.86 0.00L188.16 0.00M191.76 -12.60L195.36 -12.60L195.36 0.00M191.76 0.00L198.06 0.00M194.46 -12.60L194.46 0.00M193.56 -18.00L194.46 -18.90L195.36 -18.00L194.46 -17.10L193.56 -18.00M201.66 -12.60L207.06 -12.60M201.66 0.00L207.06 0.00M203.46 -12.60L207.06 -8.10L206.16 -9.00M203.46 -12.60L209.76 -4.50L207.06 -8.10L213.36 0.00L203.46 -12.60M204.36 -12.60L207.96 -8.10L207.06 -9.00M204.36 -12.60L210.66 -4.50L207.96 -8.10L214.26 0.00L204.36 -12.60M204.36 -0.90L203.46 0.00L214.26 -12.60L213.36 -11.70M207.96 -5.40L209.76 -7.20M209.76 -4.50L213.36 0.00M210.66 -12.60L216.06 -12.60M210.66 -4.50L214.26 0.00M210.66 0.00L216.06 0.00M221.46 -7.20L222.36 -9.90L224.16 -11.70L225.96 -12.60L228.66 -12.60L230.46 -11.70L231.36 -10.80L232.26 -9.00L232.26 -7.20L221.46 -7.20L221.46 -5.40L222.36 -2.70L224.16 -0.90L225.96 0.00L223.26 -0.90L221.46 -2.70L220.56 -5.40L220.56 -7.20L221.46 -9.90L223.26 -11.70L225.96 -12.60M225.96 0.00L227.76 0.00L230.46 -0.90L232.26 -2.70M230.46 -11.70L231.36 -9.90L231.36 -7.20M243.06 -12.60L244.86 -12.60L246.66 -11.70L248.46 -9.90M243.06 -12.60L240.36 -11.70L238.56 -9.90L237.66 -7.20L237.66 -5.40L238.56 -2.70L240.36 -0.90L243.06 0.00L241.26 -0.90L239.46 -2.70L238.56 -5.40L238.56 -7.20L239.46 -9.90L241.26 -11.70L243.06 -12.60M243.06 0.00L244.86 0.00L246.66 -0.90L248.46 -2.70M245.76 -18.90L249.36 -18.90L249.36 0.00M248.46 -18.90L248.46 0.00L252.06 0.00M256.56 -22.50L258.36 -20.70L260.16 -17.10L261.06 -14.40L261.96 -9.90L261.96 -6.30L261.06 -1.80L260.16 0.90L258.36 4.50L260.16 1.80L261.96 -1.80L262.86 -6.30L262.86 -9.90L261.96 -14.40L260.16 -18.00L258.36 -20.70M256.56 6.30L258.36 4.50"/></g>
<g transform="translate(272.90 90.90)" fill="none" stroke="#0000ff" stroke-width="2.1" stroke-linecap="round" stroke-linejoin="round"><path d="M1.80 -18.90L5.40 -18.90L10.80 -2.70M1.80 0.00L7.20 0.00M4.50 0.00L4.50 -18.90L10.80 0.00L17.10 -18.90L20.70 -18.90M14.40 0.00L20.70 0.00M17.10 -18.90L17.10 0.00M18.00 -18.90L18.00 0.00M25.20 -1.80L25.20 -2.70L26.10 -4.50L27.00 -5.40L26.10 -7.20L26.10 -9.00L27.00 -10.80L27.90 -11.70L29.70 -12.60L31.50 -12.60L33.30 -11.70L34.20 -10.80L35.10 -11.70L36.90 -12.60L36.90 -11.70L35.10 -11.70M25.20 -1.80L26.10 -0.90L28.80 0.00L33.30 0.00L36.00 0.90L36.90 2.70L36.90 3.60L36.00 5.40L33.30 6.30L27.90 6.30L25.20 5.40L24.30 3.60L24.30 2.70L25.20 0.90L27.90 0.00M25.20 -1.80L26.10 0.00L28.80 0.90L33.30 0.90L36.00 1.80L36.90 2.70M27.00 -5.40L27.90 -4.50L27.00 -6.30L27.00 -9.90L27.90 -11.70M27.90 -4.50L29.70 -3.60L31.50 -3.60L33.30 -4.50L34.20 -6.30L34.20 -9.90L33.30 -11.70M33.30 -4.50L34.20 -5.40L35.10 -7.20L35.10 -9.00L34.20 -10.80M41.60 9.17L42.26 8.50L43.60 8.50L46.93 9.83L48.92 9.83L50.26 9.17L50.92 8.50L50.92 7.17M41.60 10.50L41.60 8.50L42.26 6.50L43.60 5.17L47.59 3.17L49.59 1.84L50.26 0.51L50.26 -0.82L49.59 -2.15L48.92 -2.82L47.59 -3.49L44.93 -3.49L42.93 -2.82L42.26 -2.15L41.60 -0.82L41.60 -0.16L42.26 0.51L42.93 -0.16L42.26 -0.82M43.60 8.50L46.93 10.50L49.59 10.50L50.26 9.83L50.92 8.50M44.93 4.51L48.26 3.17L50.26 1.84L50.92 0.51L50.92 -0.82L50.26 -2.15L49.59 -2.82L47.59 -3.49M55.62 -14.40L55.62 -16.20L57.42 -18.00L60.12 -18.90L62.82 -18.90L65.52 -18.00L67.32 -16.20L68.22 -18.90L68.22 -13.50L67.32 -16.20M55.62 -14.40L57.42 -12.60L59.22 -11.70L64.62 -9.90L66.42 -9.00L67.32 -8.10L68.22 -6.30L68.22 -2.70L66.42 -0.90L63.72 0.00L61.02 0.00L58.32 -0.90L56.52 -2.70L55.62 -5.40L55.62 0.00L56.52 -2.70M55.62 -14.40L56.52 -12.60L57.42 -11.70L59.22 -10.80L64.62 -9.00L66.42 -8.10L68.22 -6.30M72.72 -12.60L76.32 -12.60L76.32 0.00M72.72 0.00L79.02 0.00M75.42 -12.60L75.42 0.00M74.52 -18.00L75.42 -18.90L76.32 -18.00L75.42 -17.10L74.52 -18.00M89.82 -18.90L91.62 -18.90L93.42 -18.00L95.22 -16.20L96.12 -14.40L97.02 -10.80L97.02 -8.10L96.12 -4.50L95.22 -2.70L93.42 -0.90L91.62 0.00L94.32 -0.90L96.12 -2.70L97.02 -4.50L97.92 -8.10L97.92 -10.80L97.02 -14.40L96.12 -16.20L94.32 -18.00L91.62 -18.90M89.82 -18.90L87.12 -18.00L85.32 -16.20L84.42 -14.40L83.52 -10.80L83.52 -8.10L84.42 -4.50L85.32 -2.70L87.12 -0.90L89.82 0.00L88.02 -0.90L86.22 -2.70L85.32 -4.50L84.42 -8.10L84.42 -10.80L85.32 -14.40L86.22 -16.20L88.02 -18.00L89.82 -18.90M89.82 0.00L91.62 0.00M103.95 3.84L109.28 -3.49L109.28 10.50M103.95 3.84L107.28 -0.82L109.28 -3.49L101.95 6.50L107.28 -0.82M103.95 3.84L101.95 6.50L112.61 6.50M105.28 1.84L105.95 1.18M106.61 10.50L111.28 10.50M108.61 -2.15L108.61 10.50"/></g>
<g transform="translate(159.70 129.10)" fill="none" stroke="#505050" stroke-width="1.9" stroke-linecap="round" stroke-linejoin="round"><path d="M2.70 -14.40L2.70 -16.20L4.50 -18.00L7.20 -18.90L9.90 -18.90L12.60 -18.00L14.40 -16.20L15.30 -18.90L15.30 -13.50L14.40 -16.20M2.70 -14.40L4.50 -12.60L6.30 -11.70L11.70 -9.90L13.50 -9.00L14.40 -8.10L15.30 -6.30L15.30 -2.70L13.50 -0.90L10.80 0.00L8.10 0.00L5.40 -0.90L3.60 -2.70L2.70 -5.40L2.70 0.00L3.60 -2.70M2.70 -14.40L3.60 -12.60L4.50 -11.70L6.30 -10.80L11.70 -9.00L13.50 -8.10L15.30 -6.30M19.80 -12.60L23.40 -12.60L23.40 0.00M19.80 0.00L26.10 0.00M22.50 -12.60L22.50 0.00M21.60 -18.00L22.50 -18.90L23.40 -18.00L22.50 -17.10L21.60 -18.00"/></g>
<g transform="translate(730.80 166.70)" fill="none" stroke="#ff8000" stroke-width="2.15" stroke-linecap="round" stroke-linejoin="round"><path d="M1.80 -18.90L16.20 -18.90L16.20 -13.50L15.30 -18.90M1.80 0.00L8.10 0.00M4.50 -18.90L4.50 0.00M5.40 -18.90L5.40 0.00M5.40 -9.90L10.80 -9.90M10.80 -13.50L10.80 -6.30M21.60 -7.20L22.50 -9.90L24.30 -11.70L26.10 -12.60L28.80 -12.60L30.60 -11.70L31.50 -10.80L32.40 -9.00L32.40 -7.20L21.60 -7.20L21.60 -5.40L22.50 -2.70L24.30 -0.90L26.10 0.00L23.40 -0.90L21.60 -2.70L20.70 -5.40L20.70 -7.20L21.60 -9.90L23.40 -11.70L26.10 -12.60M26.10 0.00L27.90 0.00L30.60 -0.90L32.40 -2.70M30.60 -11.70L31.50 -9.90L31.50 -7.20M37.80 -14.40L37.80 -16.20L39.60 -18.00L42.30 -18.90L45.00 -18.90L47.70 -18.00L49.50 -16.20L50.40 -18.90L50.40 -13.50L49.50 -16.20M37.80 -14.40L39.60 -12.60L41.40 -11.70L46.80 -9.90L48.60 -9.00L49.50 -8.10L50.40 -6.30L50.40 -2.70L48.60 -0.90L45.90 0.00L43.20 0.00L40.50 -0.90L38.70 -2.70L37.80 -5.40L37.80 0.00L38.70 -2.70M37.80 -14.40L38.70 -12.60L39.60 -11.70L41.40 -10.80L46.80 -9.00L48.60 -8.10L50.40 -6.30"/></g>
<g transform="translate(598.40 229.50)" fill="none" stroke="#ff00ff" stroke-width="2.25" stroke-linecap="round" stroke-linejoin="round"><path d="M2.70 -14.40L2.70 -16.20L4.50 -18.00L7.20 -18.90L9.90 -18.90L12.60 -18.00L14.40 -16.20L15.30 -18.90L15.30 -13.50L14.40 -16.20M2.70 -14.40L4.50 -12.60L6.30 -11.70L11.70 -9.90L13.50 -9.00L14.40 -8.10L15.30 -6.30L15.30 -2.70L13.50 -0.90L10.80 0.00L8.10 0.00L5.40 -0.90L3.60 -2.70L2.70 -5.40L2.70 0.00L3.60 -2.70M2.70 -14.40L3.60 -12.60L4.50 -11.70L6.30 -10.80L11.70 -9.00L13.50 -8.10L15.30 -6.30M19.80 -12.60L23.40 -12.60L23.40 0.00M19.80 0.00L26.10 0.00M22.50 -12.60L22.50 0.00M21.60 -18.00L22.50 -18.90L23.40 -18.00L22.50 -17.10L21.60 -18.00M36.90 -18.90L38.70 -18.90L40.50 -18.00L42.30 -16.20L43.20 -14.40L44.10 -10.80L44.10 -8.10L43.20 -4.50L42.30 -2.70L40.50 -0.90L38.70 0.00L41.40 -0.90L43.20 -2.70L44.10 -4.50L45.00 -8.10L45.00 -10.80L44.10 -14.40L43.20 -16.20L41.40 -18.00L38.70 -18.90M36.90 -18.90L34.20 -18.00L32.40 -16.20L31.50 -14.40L30.60 -10.80L30.60 -8.10L31.50 -4.50L32.40 -2.70L34.20 -0.90L36.90 0.00L35.10 -0.90L33.30 -2.70L32.40 -4.50L31.50 -8.10L31.50 -10.80L32.40 -14.40L33.30 -16.20L35.10 -18.00L36.90 -18.90M36.90 0.00L38.70 0.00M49.70 9.17L50.36 8.50L51.70 8.50L55.03 9.83L57.02 9.83L58.36 9.17L59.02 8.50L59.02 7.17M49.70 10.50L49.70 8.50L50.36 6.50L51.70 5.17L55.69 3.17L57.69 1.84L58.36 0.51L58.36 -0.82L57.69 -2.15L57.02 -2.82L55.69 -3.49L53.03 -3.49L51.03 -2.82L50.36 -2.15L49.70 -0.82L49.70 -0.16L50.36 0.51L51.03 -0.16L50.36 -0.82M51.70 8.50L55.03 10.50L57.69 10.50L58.36 9.83L59.02 8.50M53.03 4.51L56.36 3.17L58.36 1.84L59.02 0.51L59.02 -0.82L58.36 -2.15L57.69 -2.82L55.69 -3.49"/></g>
<g transform="translate(493.50 244.50)" fill="none" stroke="#0080ff" stroke-width="2.0" stroke-linecap="round" stroke-linejoin="round"><path d="M1.80 -18.90L16.20 -18.90L16.20 -13.50L15.30 -18.90M1.80 0.00L8.10 0.00M4.50 -18.90L4.50 0.00M5.40 -18.90L5.40 0.00M5.40 -9.90L10.80 -9.90M10.80 -13.50L10.80 -6.30M21.60 -7.20L22.50 -9.90L24.30 -11.70L26.10 -12.60L28.80 -12.60L30.60 -11.70L31.50 -10.80L32.40 -9.00L32.40 -7.20L21.60 -7.20L21.60 -5.40L22.50 -2.70L24.30 -0.90L26.10 0.00L23.40 -0.90L21.60 -2.70L20.70 -5.40L20.70 -7.20L21.60 -9.90L23.40 -11.70L26.10 -12.60M26.10 0.00L27.90 0.00L30.60 -0.90L32.40 -2.70M30.60 -11.70L31.50 -9.90L31.50 -7.20"/></g>
<g transform="translate(293.50 309.70)" fill="none" stroke="#00ffff" stroke-width="2.1" stroke-linecap="round" stroke-linejoin="round"><path d="M1.80 -18.90L5.40 -18.90L10.80 -2.70M1.80 0.00L7.20 0.00M4.50 0.00L4.50 -18.90L10.80 0.00L17.10 -18.90L20.70 -18.90M14.40 0.00L20.70 0.00M17.10 -18.90L17.10 0.00M18.00 -18.90L18.00 0.00M25.20 -1.80L25.20 -2.70L26.10 -4.50L27.00 -5.40L26.10 -7.20L26.10 -9.00L27.00 -10.80L27.90 -11.70L29.70 -12.60L31.50 -12.60L33.30 -11.70L34.20 -10.80L35.10 -11.70L36.90 -12.60L36.90 -11.70L35.10 -11.70M25.20 -1.80L26.10 -0.90L28.80 0.00L33.30 0.00L36.00 0.90L36.90 2.70L36.90 3.60L36.00 5.40L33.30 6.30L27.90 6.30L25.20 5.40L24.30 3.60L24.30 2.70L25.20 0.90L27.90 0.00M25.20 -1.80L26.10 0.00L28.80 0.90L33.30 0.90L36.00 1.80L36.90 2.70M27.00 -5.40L27.90 -4.50L27.00 -6.30L27.00 -9.90L27.90 -11.70M27.90 -4.50L29.70 -3.60L31.50 -3.60L33.30 -4.50L34.20 -6.30L34.20 -9.90L33.30 -11.70M33.30 -4.50L34.20 -5.40L35.10 -7.20L35.10 -9.00L34.20 -10.80M48.60 -18.90L50.40 -18.90L52.20 -18.00L54.00 -16.20L54.90 -14.40L55.80 -10.80L55.80 -8.10L54.90 -4.50L54.00 -2.70L52.20 -0.90L50.40 0.00L53.10 -0.90L54.90 -2.70L55.80 -4.50L56.70 -8.10L56.70 -10.80L55.80 -14.40L54.90 -16.20L53.10 -18.00L50.40 -18.90M48.60 -18.90L45.90 -18.00L44.10 -16.20L43.20 -14.40L42.30 -10.80L42.30 -8.10L43.20 -4.50L44.10 -2.70L45.90 -0.90L48.60 0.00L46.80 -0.90L45.00 -2.70L44.10 -4.50L43.20 -8.10L43.20 -10.80L44.10 -14.40L45.00 -16.20L46.80 -18.00L48.60 -18.90M48.60 0.00L50.40 0.00"/></g>
<g transform="translate(245.50 384.00)" fill="none" stroke="#00ff00" stroke-width="2.1" stroke-linecap="round" stroke-linejoin="round"><path d="M1.80 -18.90L5.40 -18.90L10.80 -2.70M1.80 0.00L7.20 0.00M4.50 0.00L4.50 -18.90L10.80 0.00L17.10 -18.90L20.70 -18.90M14.40 0.00L20.70 0.00M17.10 -18.90L17.10 0.00M18.00 -18.90L18.00 0.00M25.20 -1.80L25.20 -2.70L26.10 -4.50L27.00 -5.40L26.10 -7.20L26.10 -9.00L27.00 -10.80L27.90 -11.70L29.70 -12.60L31.50 -12.60L33.30 -11.70L34.20 -10.80L35.10 -11.70L36.90 -12.60L36.90 -11.70L35.10 -11.70M25.20 -1.80L26.10 -0.90L28.80 0.00L33.30 0.00L36.00 0.90L36.90 2.70L36.90 3.60L36.00 5.40L33.30 6.30L27.90 6.30L25.20 5.40L24.30 3.60L24.30 2.70L25.20 0.90L27.90 0.00M25.20 -1.80L26.10 0.00L28.80 0.90L33.30 0.90L36.00 1.80L36.90 2.70M27.00 -5.40L27.90 -4.50L27.00 -6.30L27.00 -9.90L27.90 -11.70M27.90 -4.50L29.70 -3.60L31.50 -3.60L33.30 -4.50L34.20 -6.30L34.20 -9.90L33.30 -11.70M33.30 -4.50L34.20 -5.40L35.10 -7.20L35.10 -9.00L34.20 -10.80M42.30 -14.40L42.30 -16.20L44.10 -18.00L46.80 -18.90L49.50 -18.90L52.20 -18.00L54.00 -16.20L54.90 -18.90L54.90 -13.50L54.00 -16.20M42.30 -14.40L44.10 -12.60L45.90 -11.70L51.30 -9.90L53.10 -9.00L54.00 -8.10L54.90 -6.30L54.90 -2.70L53.10 -0.90L50.40 0.00L47.70 0.00L45.00 -0.90L43.20 -2.70L42.30 -5.40L42.30 0.00L43.20 -2.70M42.30 -14.40L43.20 -12.60L44.10 -11.70L45.90 -10.80L51.30 -9.00L53.10 -8.10L54.90 -6.30M59.40 -12.60L63.00 -12.60L63.00 0.00M59.40 0.00L65.70 0.00M62.10 -12.60L62.10 0.00M61.20 -18.00L62.10 -18.90L63.00 -18.00L62.10 -17.10L61.20 -18.00M76.50 -18.90L78.30 -18.90L80.10 -18.00L81.90 -16.20L82.80 -14.40L83.70 -10.80L83.70 -8.10L82.80 -4.50L81.90 -2.70L80.10 -0.90L78.30 0.00L81.00 -0.90L82.80 -2.70L83.70 -4.50L84.60 -8.10L84.60 -10.80L83.70 -14.40L82.80 -16.20L81.00 -18.00L78.30 -18.90M76.50 -18.90L73.80 -18.00L72.00 -16.20L71.10 -14.40L70.20 -10.80L70.20 -8.10L71.10 -4.50L72.00 -2.70L73.80 -0.90L76.50 0.00L74.70 -0.90L72.90 -2.70L72.00 -4.50L71.10 -8.10L71.10 -10.80L72.00 -14.40L72.90 -16.20L74.70 -18.00L76.50 -18.90M76.50 0.00L78.30 0.00M89.96 -0.82L90.63 -0.16L89.96 0.51L89.30 -0.16L89.30 -0.82L89.96 -2.15L90.63 -2.82L92.63 -3.49L95.29 -3.49L96.62 -2.82L97.29 -1.49L97.29 0.51L96.62 1.84L95.29 2.51L97.29 1.84L97.96 0.51L97.96 -1.49L97.29 -2.82L95.29 -3.49M89.96 7.84L90.63 7.17L89.96 6.50L89.30 7.17L89.30 7.84L89.96 9.17L90.63 9.83L92.63 10.50L95.29 10.50L96.62 9.83L97.29 9.17L97.96 7.84L97.96 5.84L97.29 3.84M93.29 2.51L95.29 2.51L96.62 3.17L97.96 4.51L98.62 5.84L98.62 7.84L97.96 9.17L97.29 9.83L95.29 10.50"/></g>
<g transform="translate(360.50 458.00)" fill="none" stroke="#ff0000" stroke-width="2.1" stroke-linecap="round" stroke-linejoin="round"><path d="M0.90 0.00L6.30 0.00M2.70 0.00L9.00 -18.90L15.30 0.00M4.50 -5.40L12.60 -5.40M9.00 -16.20L14.40 0.00M11.70 0.00L17.10 0.00M19.80 -18.90L23.40 -18.90L23.40 0.00M19.80 0.00L26.10 0.00M22.50 -18.90L22.50 0.00M29.90 9.17L30.56 8.50L31.90 8.50L35.23 9.83L37.22 9.83L38.56 9.17L39.22 8.50L39.22 7.17M29.90 10.50L29.90 8.50L30.56 6.50L31.90 5.17L35.89 3.17L37.89 1.84L38.56 0.51L38.56 -0.82L37.89 -2.15L37.22 -2.82L35.89 -3.49L33.23 -3.49L31.23 -2.82L30.56 -2.15L29.90 -0.82L29.90 -0.16L30.56 0.51L31.23 -0.16L30.56 -0.82M31.90 8.50L35.23 10.50L37.89 10.50L38.56 9.83L39.22 8.50M33.23 4.51L36.56 3.17L38.56 1.84L39.22 0.51L39.22 -0.82L38.56 -2.15L37.89 -2.82L35.89 -3.49M50.22 -18.90L52.02 -18.90L53.82 -18.00L55.62 -16.20L56.52 -14.40L57.42 -10.80L57.42 -8.10L56.52 -4.50L55.62 -2.70L53.82 -0.90L52.02 0.00L54.72 -0.90L56.52 -2.70L57.42 -4.50L58.32 -8.10L58.32 -10.80L57.42 -14.40L56.52 -16.20L54.72 -18.00L52.02 -18.90M50.22 -18.90L47.52 -18.00L45.72 -16.20L44.82 -14.40L43.92 -10.80L43.92 -8.10L44.82 -4.50L45.72 -2.70L47.52 -0.90L50.22 0.00L48.42 -0.90L46.62 -2.70L45.72 -4.50L44.82 -8.10L44.82 -10.80L45.72 -14.40L46.62 -16.20L48.42 -18.00L50.22 -18.90M50.22 0.00L52.02 0.00M63.68 -0.82L64.35 -0.16L63.68 0.51L63.02 -0.16L63.02 -0.82L63.68 -2.15L64.35 -2.82L66.35 -3.49L69.01 -3.49L70.34 -2.82L71.01 -1.49L71.01 0.51L70.34 1.84L69.01 2.51L71.01 1.84L71.68 0.51L71.68 -1.49L71.01 -2.82L69.01 -3.49M63.68 7.84L64.35 7.17L63.68 6.50L63.02 7.17L63.02 7.84L63.68 9.17L64.35 9.83L66.35 10.50L69.01 10.50L70.34 9.83L71.01 9.17L71.68 7.84L71.68 5.84L71.01 3.84M67.01 2.51L69.01 2.51L70.34 3.17L71.68 4.51L72.34 5.84L72.34 7.84L71.68 9.17L71.01 9.83L69.01 10.50"/></g>
<g transform="translate(644.30 420.20)" fill="none" stroke="#000000" stroke-width="2.0" stroke-linecap="round" stroke-linejoin="round"><path d="M9.00 -18.90L10.80 -18.90L13.50 -18.00L15.30 -16.20L16.20 -18.90L16.20 -13.50L15.30 -16.20M9.00 -18.90L6.30 -18.00L4.50 -16.20L3.60 -14.40L2.70 -11.70L2.70 -7.20L3.60 -4.50L4.50 -2.70L6.30 -0.90L9.00 0.00L7.20 -0.90L5.40 -2.70L4.50 -4.50L3.60 -7.20L3.60 -11.70L4.50 -14.40L5.40 -16.20L7.20 -18.00L9.00 -18.90M9.00 0.00L10.80 0.00L13.50 -0.90L15.30 -2.70L16.20 -4.50"/></g>
</svg>
</body></html>
